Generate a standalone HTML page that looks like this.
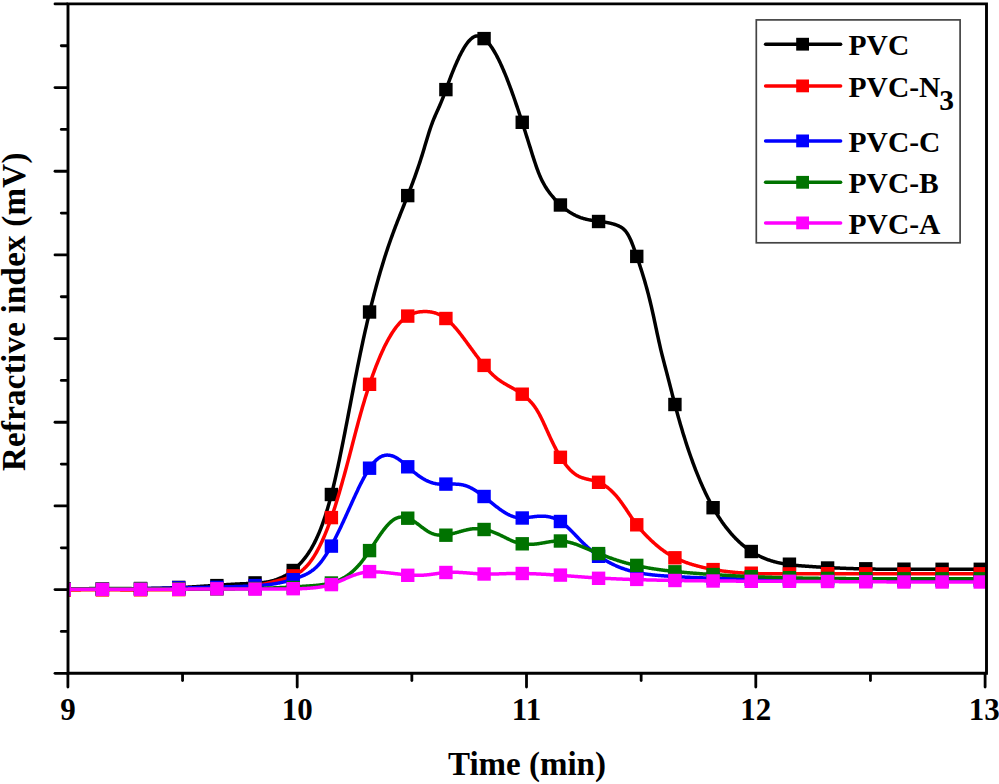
<!DOCTYPE html>
<html><head><meta charset="utf-8"><style>
html,body{margin:0;padding:0;background:#fff;width:999px;height:784px;overflow:hidden}
svg{display:block}
text{font-family:"Liberation Serif",serif;font-weight:bold;fill:#000}
.tl{font-size:31px}
.lg{font-size:29.5px}
.at{font-size:33px}
.yt{font-size:33px;letter-spacing:0.25px}
</style></head><body>
<svg width="999" height="784" viewBox="0 0 999 784">
<defs><clipPath id="pc"><rect x="67" y="3" width="920" height="671"/></clipPath></defs>
<g clip-path="url(#pc)">
<polyline points="64.20,589.54 64.81,589.52 65.42,589.50 66.03,589.49 66.64,589.47 67.26,589.46 67.87,589.44 68.48,589.43 69.09,589.41 69.70,589.40 70.31,589.38 70.92,589.37 71.53,589.35 72.14,589.34 72.76,589.33 73.37,589.31 73.98,589.30 74.59,589.29 75.20,589.28 75.81,589.27 76.42,589.25 77.03,589.24 77.64,589.23 78.26,589.22 78.87,589.21 79.48,589.20 80.09,589.19 80.70,589.18 81.31,589.17 81.92,589.16 82.53,589.15 83.14,589.14 83.76,589.13 84.37,589.12 84.98,589.11 85.59,589.10 86.20,589.09 86.81,589.08 87.42,589.08 88.03,589.07 88.65,589.06 89.26,589.05 89.87,589.04 90.48,589.04 91.09,589.03 91.70,589.02 92.31,589.01 92.92,589.01 93.53,589.00 94.15,588.99 94.76,588.99 95.37,588.98 95.98,588.97 96.59,588.97 97.20,588.96 97.81,588.96 98.42,588.95 99.03,588.94 99.65,588.94 100.26,588.93 100.87,588.93 101.48,588.92 102.09,588.92 102.70,588.91 103.31,588.91 103.92,588.90 104.53,588.89 105.15,588.89 105.76,588.88 106.37,588.88 106.98,588.87 107.59,588.87 108.20,588.86 108.81,588.86 109.42,588.85 110.03,588.85 110.65,588.84 111.26,588.84 111.87,588.84 112.48,588.83 113.09,588.83 113.70,588.82 114.31,588.82 114.92,588.81 115.53,588.81 116.15,588.80 116.76,588.80 117.37,588.79 117.98,588.79 118.59,588.78 119.20,588.78 119.81,588.77 120.42,588.77 121.03,588.76 121.65,588.76 122.26,588.75 122.87,588.75 123.48,588.74 124.09,588.74 124.70,588.73 125.31,588.73 125.92,588.72 126.53,588.71 127.15,588.71 127.76,588.70 128.37,588.70 128.98,588.69 129.59,588.69 130.20,588.68 130.81,588.67 131.42,588.67 132.04,588.66 132.65,588.65 133.26,588.65 133.87,588.64 134.48,588.63 135.09,588.63 135.70,588.62 136.31,588.61 136.92,588.60 137.54,588.60 138.15,588.59 138.76,588.58 139.37,588.57 139.98,588.57 140.59,588.56 141.20,588.55 141.81,588.54 142.42,588.53 143.04,588.52 143.65,588.51 144.26,588.50 144.87,588.49 145.48,588.48 146.09,588.47 146.70,588.46 147.31,588.45 147.92,588.44 148.54,588.43 149.15,588.42 149.76,588.41 150.37,588.40 150.98,588.39 151.59,588.37 152.20,588.36 152.81,588.35 153.42,588.34 154.04,588.32 154.65,588.31 155.26,588.30 155.87,588.28 156.48,588.27 157.09,588.26 157.70,588.24 158.31,588.23 158.92,588.21 159.54,588.20 160.15,588.18 160.76,588.17 161.37,588.15 161.98,588.13 162.59,588.12 163.20,588.10 163.81,588.08 164.42,588.06 165.04,588.05 165.65,588.03 166.26,588.01 166.87,587.99 167.48,587.97 168.09,587.95 168.70,587.93 169.31,587.91 169.93,587.89 170.54,587.87 171.15,587.85 171.76,587.83 172.37,587.80 172.98,587.78 173.59,587.76 174.20,587.74 174.81,587.71 175.43,587.69 176.04,587.67 176.65,587.64 177.26,587.62 177.87,587.59 178.48,587.56 179.09,587.54 179.70,587.51 180.31,587.48 180.93,587.46 181.54,587.43 182.15,587.40 182.76,587.37 183.37,587.34 183.98,587.31 184.59,587.28 185.20,587.25 185.81,587.22 186.43,587.19 187.04,587.16 187.65,587.13 188.26,587.09 188.87,587.06 189.48,587.03 190.09,586.99 190.70,586.96 191.31,586.93 191.93,586.89 192.54,586.85 193.15,586.82 193.76,586.78 194.37,586.75 194.98,586.71 195.59,586.67 196.20,586.63 196.81,586.60 197.43,586.56 198.04,586.52 198.65,586.48 199.26,586.44 199.87,586.40 200.48,586.36 201.09,586.32 201.70,586.28 202.31,586.24 202.93,586.20 203.54,586.16 204.15,586.12 204.76,586.08 205.37,586.04 205.98,586.00 206.59,585.96 207.20,585.92 207.81,585.87 208.43,585.83 209.04,585.79 209.65,585.75 210.26,585.71 210.87,585.67 211.48,585.62 212.09,585.58 212.70,585.54 213.32,585.50 213.93,585.46 214.54,585.42 215.15,585.38 215.76,585.33 216.37,585.29 216.98,585.25 217.59,585.21 218.20,585.17 218.82,585.13 219.43,585.09 220.04,585.05 220.65,585.01 221.26,584.97 221.87,584.93 222.48,584.89 223.09,584.85 223.70,584.81 224.32,584.77 224.93,584.73 225.54,584.69 226.15,584.65 226.76,584.61 227.37,584.58 227.98,584.54 228.59,584.50 229.20,584.46 229.82,584.43 230.43,584.39 231.04,584.36 231.65,584.32 232.26,584.29 232.87,584.25 233.48,584.22 234.09,584.18 234.70,584.15 235.32,584.12 235.93,584.08 236.54,584.05 237.15,584.02 237.76,583.99 238.37,583.96 238.98,583.93 239.59,583.90 240.20,583.87 240.82,583.84 241.43,583.82 242.04,583.79 242.65,583.76 243.26,583.74 243.87,583.71 244.48,583.69 245.09,583.66 245.70,583.64 246.32,583.62 246.93,583.59 247.54,583.57 248.15,583.55 248.76,583.53 249.37,583.51 249.98,583.48 250.59,583.46 251.20,583.44 251.82,583.41 252.43,583.39 253.04,583.36 253.65,583.33 254.26,583.30 254.87,583.27 255.48,583.23 256.09,583.19 256.71,583.16 257.32,583.11 257.93,583.07 258.54,583.02 259.15,582.97 259.76,582.92 260.37,582.86 260.98,582.80 261.59,582.74 262.21,582.67 262.82,582.60 263.43,582.52 264.04,582.44 264.65,582.36 265.26,582.27 265.87,582.17 266.48,582.07 267.09,581.97 267.71,581.86 268.32,581.74 268.93,581.62 269.54,581.49 270.15,581.36 270.76,581.22 271.37,581.07 271.98,580.92 272.59,580.76 273.21,580.59 273.82,580.42 274.43,580.23 275.04,580.04 275.65,579.85 276.26,579.64 276.87,579.43 277.48,579.21 278.09,578.98 278.71,578.74 279.32,578.49 279.93,578.23 280.54,577.97 281.15,577.70 281.76,577.41 282.37,577.12 282.98,576.81 283.59,576.50 284.21,576.18 284.82,575.84 285.43,575.50 286.04,575.14 286.65,574.78 287.26,574.40 287.87,574.01 288.48,573.62 289.09,573.20 289.71,572.78 290.32,572.35 290.93,571.90 291.54,571.44 292.15,570.97 292.76,570.49 293.37,569.99 293.98,569.48 294.60,568.96 295.21,568.43 295.82,567.88 296.43,567.31 297.04,566.74 297.65,566.15 298.26,565.54 298.87,564.92 299.48,564.29 300.10,563.64 300.71,562.98 301.32,562.30 301.93,561.61 302.54,560.90 303.15,560.17 303.76,559.43 304.37,558.67 304.98,557.89 305.60,557.08 306.21,556.26 306.82,555.42 307.43,554.55 308.04,553.66 308.65,552.75 309.26,551.81 309.87,550.84 310.48,549.85 311.10,548.84 311.71,547.79 312.32,546.72 312.93,545.62 313.54,544.48 314.15,543.32 314.76,542.13 315.37,540.90 315.98,539.64 316.60,538.34 317.21,537.01 317.82,535.65 318.43,534.25 319.04,532.81 319.65,531.34 320.26,529.82 320.87,528.27 321.48,526.68 322.10,525.05 322.71,523.37 323.32,521.65 323.93,519.89 324.54,518.09 325.15,516.24 325.76,514.35 326.37,512.41 326.98,510.42 327.60,508.39 328.21,506.30 328.82,504.17 329.43,501.99 330.04,499.76 330.65,497.47 331.26,495.13 331.87,492.75 332.48,490.30 333.10,487.81 333.71,485.27 334.32,482.69 334.93,480.06 335.54,477.38 336.15,474.67 336.76,471.91 337.37,469.12 337.99,466.29 338.60,463.43 339.21,460.53 339.82,457.61 340.43,454.65 341.04,451.67 341.65,448.66 342.26,445.63 342.87,442.57 343.49,439.50 344.10,436.40 344.71,433.29 345.32,430.17 345.93,427.03 346.54,423.88 347.15,420.72 347.76,417.55 348.37,414.37 348.99,411.19 349.60,408.01 350.21,404.82 350.82,401.64 351.43,398.46 352.04,395.28 352.65,392.11 353.26,388.95 353.87,385.79 354.49,382.65 355.10,379.52 355.71,376.40 356.32,373.30 356.93,370.22 357.54,367.15 358.15,364.11 358.76,361.10 359.37,358.10 359.99,355.14 360.60,352.20 361.21,349.29 361.82,346.41 362.43,343.55 363.04,340.73 363.65,337.93 364.26,335.16 364.87,332.42 365.49,329.70 366.10,327.02 366.71,324.36 367.32,321.72 367.93,319.11 368.54,316.53 369.15,313.98 369.76,311.45 370.37,308.95 370.99,306.47 371.60,304.02 372.21,301.60 372.82,299.20 373.43,296.82 374.04,294.47 374.65,292.15 375.26,289.85 375.87,287.58 376.49,285.33 377.10,283.10 377.71,280.90 378.32,278.72 378.93,276.57 379.54,274.44 380.15,272.33 380.76,270.25 381.38,268.19 381.99,266.16 382.60,264.14 383.21,262.15 383.82,260.18 384.43,258.24 385.04,256.32 385.65,254.42 386.26,252.54 386.88,250.68 387.49,248.85 388.10,247.03 388.71,245.24 389.32,243.47 389.93,241.72 390.54,239.99 391.15,238.28 391.76,236.58 392.38,234.90 392.99,233.24 393.60,231.60 394.21,229.96 394.82,228.34 395.43,226.73 396.04,225.14 396.65,223.55 397.26,221.97 397.88,220.41 398.49,218.84 399.10,217.29 399.71,215.74 400.32,214.20 400.93,212.66 401.54,211.13 402.15,209.59 402.76,208.06 403.38,206.53 403.99,205.00 404.60,203.47 405.21,201.93 405.82,200.39 406.43,198.85 407.04,197.31 407.65,195.75 408.26,194.19 408.88,192.63 409.49,191.05 410.10,189.47 410.71,187.87 411.32,186.27 411.93,184.65 412.54,183.02 413.15,181.37 413.76,179.71 414.38,178.04 414.99,176.34 415.60,174.63 416.21,172.91 416.82,171.16 417.43,169.39 418.04,167.60 418.65,165.79 419.27,163.96 419.88,162.10 420.49,160.22 421.10,158.32 421.71,156.38 422.32,154.42 422.93,152.43 423.54,150.42 424.15,148.38 424.77,146.34 425.38,144.28 425.99,142.23 426.60,140.19 427.21,138.16 427.82,136.16 428.43,134.18 429.04,132.24 429.65,130.35 430.27,128.50 430.88,126.71 431.49,124.98 432.10,123.32 432.71,121.72 433.32,120.17 433.93,118.67 434.54,117.21 435.15,115.78 435.77,114.38 436.38,113.00 436.99,111.63 437.60,110.28 438.21,108.92 438.82,107.55 439.43,106.18 440.04,104.78 440.65,103.36 441.27,101.90 441.88,100.41 442.49,98.87 443.10,97.29 443.71,95.66 444.32,94.01 444.93,92.34 445.54,90.66 446.15,88.99 446.77,87.32 447.38,85.66 447.99,84.02 448.60,82.39 449.21,80.77 449.82,79.16 450.43,77.57 451.04,76.00 451.65,74.44 452.27,72.90 452.88,71.38 453.49,69.88 454.10,68.39 454.71,66.93 455.32,65.49 455.93,64.08 456.54,62.68 457.15,61.32 457.77,59.97 458.38,58.66 458.99,57.37 459.60,56.11 460.21,54.88 460.82,53.68 461.43,52.51 462.04,51.37 462.66,50.27 463.27,49.19 463.88,48.16 464.49,47.16 465.10,46.19 465.71,45.26 466.32,44.37 466.93,43.52 467.54,42.71 468.16,41.94 468.77,41.21 469.38,40.53 469.99,39.89 470.60,39.29 471.21,38.74 471.82,38.23 472.43,37.77 473.04,37.36 473.66,37.00 474.27,36.69 474.88,36.42 475.49,36.21 476.10,36.06 476.71,35.95 477.32,35.90 477.93,35.91 478.54,35.96 479.16,36.07 479.77,36.23 480.38,36.43 480.99,36.68 481.60,36.98 482.21,37.32 482.82,37.70 483.43,38.12 484.04,38.58 484.66,39.08 485.27,39.61 485.88,40.18 486.49,40.79 487.10,41.43 487.71,42.11 488.32,42.83 488.93,43.57 489.54,44.35 490.16,45.17 490.77,46.01 491.38,46.89 491.99,47.80 492.60,48.75 493.21,49.72 493.82,50.72 494.43,51.75 495.04,52.82 495.66,53.91 496.27,55.03 496.88,56.18 497.49,57.35 498.10,58.55 498.71,59.78 499.32,61.04 499.93,62.32 500.54,63.62 501.16,64.95 501.77,66.31 502.38,67.69 502.99,69.09 503.60,70.51 504.21,71.96 504.82,73.43 505.43,74.92 506.05,76.43 506.66,77.96 507.27,79.51 507.88,81.08 508.49,82.67 509.10,84.28 509.71,85.91 510.32,87.55 510.93,89.21 511.55,90.89 512.16,92.59 512.77,94.30 513.38,96.02 513.99,97.76 514.60,99.52 515.21,101.28 515.82,103.06 516.43,104.86 517.05,106.67 517.66,108.48 518.27,110.31 518.88,112.16 519.49,114.01 520.10,115.87 520.71,117.74 521.32,119.62 521.93,121.51 522.55,123.41 523.16,125.31 523.77,127.22 524.38,129.14 524.99,131.07 525.60,133.00 526.21,134.93 526.82,136.87 527.43,138.82 528.05,140.77 528.66,142.72 529.27,144.68 529.88,146.64 530.49,148.59 531.10,150.55 531.71,152.50 532.32,154.44 532.93,156.36 533.55,158.26 534.16,160.14 534.77,161.99 535.38,163.81 535.99,165.59 536.60,167.34 537.21,169.04 537.82,170.69 538.43,172.29 539.05,173.83 539.66,175.31 540.27,176.74 540.88,178.11 541.49,179.42 542.10,180.68 542.71,181.89 543.32,183.05 543.94,184.17 544.55,185.25 545.16,186.28 545.77,187.28 546.38,188.24 546.99,189.17 547.60,190.08 548.21,190.95 548.82,191.80 549.44,192.62 550.05,193.43 550.66,194.21 551.27,194.98 551.88,195.74 552.49,196.48 553.10,197.21 553.71,197.93 554.32,198.63 554.94,199.32 555.55,200.00 556.16,200.66 556.77,201.31 557.38,201.94 557.99,202.57 558.60,203.18 559.21,203.78 559.82,204.36 560.44,204.93 561.05,205.49 561.66,206.04 562.27,206.58 562.88,207.10 563.49,207.61 564.10,208.11 564.71,208.60 565.32,209.08 565.94,209.55 566.55,210.00 567.16,210.44 567.77,210.87 568.38,211.30 568.99,211.71 569.60,212.10 570.21,212.49 570.82,212.87 571.44,213.24 572.05,213.59 572.66,213.94 573.27,214.28 573.88,214.60 574.49,214.92 575.10,215.23 575.71,215.53 576.32,215.81 576.94,216.09 577.55,216.36 578.16,216.62 578.77,216.87 579.38,217.11 579.99,217.34 580.60,217.57 581.21,217.78 581.82,217.99 582.44,218.19 583.05,218.38 583.66,218.56 584.27,218.73 584.88,218.90 585.49,219.06 586.10,219.21 586.71,219.35 587.33,219.49 587.94,219.62 588.55,219.74 589.16,219.86 589.77,219.98 590.38,220.09 590.99,220.19 591.60,220.30 592.21,220.39 592.83,220.49 593.44,220.58 594.05,220.67 594.66,220.75 595.27,220.84 595.88,220.92 596.49,221.00 597.10,221.08 597.71,221.16 598.33,221.24 598.94,221.32 599.55,221.40 600.16,221.48 600.77,221.56 601.38,221.64 601.99,221.72 602.60,221.81 603.21,221.90 603.83,221.99 604.44,222.08 605.05,222.18 605.66,222.28 606.27,222.39 606.88,222.50 607.49,222.61 608.10,222.73 608.71,222.86 609.33,222.99 609.94,223.13 610.55,223.27 611.16,223.42 611.77,223.58 612.38,223.75 612.99,223.92 613.60,224.10 614.21,224.29 614.83,224.49 615.44,224.70 616.05,224.92 616.66,225.15 617.27,225.38 617.88,225.63 618.49,225.89 619.10,226.17 619.71,226.46 620.33,226.78 620.94,227.13 621.55,227.51 622.16,227.93 622.77,228.39 623.38,228.89 623.99,229.45 624.60,230.06 625.21,230.72 625.83,231.46 626.44,232.26 627.05,233.13 627.66,234.07 628.27,235.10 628.88,236.22 629.49,237.42 630.10,238.70 630.72,240.07 631.33,241.50 631.94,243.00 632.55,244.55 633.16,246.16 633.77,247.81 634.38,249.50 634.99,251.23 635.60,252.98 636.22,254.75 636.83,256.54 637.44,258.33 638.05,260.13 638.66,261.95 639.27,263.79 639.88,265.64 640.49,267.51 641.10,269.40 641.72,271.32 642.33,273.26 642.94,275.23 643.55,277.24 644.16,279.27 644.77,281.35 645.38,283.46 645.99,285.61 646.60,287.81 647.22,290.05 647.83,292.33 648.44,294.67 649.05,297.06 649.66,299.50 650.27,302.00 650.88,304.56 651.49,307.18 652.10,309.86 652.72,312.60 653.33,315.38 653.94,318.21 654.55,321.05 655.16,323.92 655.77,326.80 656.38,329.68 656.99,332.55 657.60,335.39 658.22,338.22 658.83,341.00 659.44,343.73 660.05,346.41 660.66,349.03 661.27,351.58 661.88,354.07 662.49,356.52 663.10,358.92 663.72,361.29 664.33,363.64 664.94,365.96 665.55,368.28 666.16,370.60 666.77,372.92 667.38,375.25 667.99,377.61 668.61,379.98 669.22,382.36 669.83,384.75 670.44,387.14 671.05,389.54 671.66,391.93 672.27,394.32 672.88,396.69 673.49,399.06 674.11,401.41 674.72,403.74 675.33,406.05 675.94,408.33 676.55,410.59 677.16,412.82 677.77,415.04 678.38,417.22 678.99,419.39 679.61,421.53 680.22,423.65 680.83,425.75 681.44,427.82 682.05,429.87 682.66,431.90 683.27,433.90 683.88,435.88 684.49,437.85 685.11,439.78 685.72,441.70 686.33,443.60 686.94,445.47 687.55,447.33 688.16,449.16 688.77,450.97 689.38,452.76 689.99,454.53 690.61,456.28 691.22,458.00 691.83,459.71 692.44,461.40 693.05,463.07 693.66,464.71 694.27,466.34 694.88,467.95 695.49,469.54 696.11,471.11 696.72,472.66 697.33,474.19 697.94,475.70 698.55,477.20 699.16,478.67 699.77,480.13 700.38,481.57 700.99,482.99 701.61,484.39 702.22,485.78 702.83,487.14 703.44,488.49 704.05,489.82 704.66,491.14 705.27,492.43 705.88,493.72 706.49,494.98 707.11,496.23 707.72,497.46 708.33,498.67 708.94,499.87 709.55,501.05 710.16,502.21 710.77,503.36 711.38,504.50 712.00,505.62 712.61,506.72 713.22,507.81 713.83,508.88 714.44,509.94 715.05,510.98 715.66,512.01 716.27,513.02 716.88,514.02 717.50,515.01 718.11,515.98 718.72,516.93 719.33,517.88 719.94,518.81 720.55,519.72 721.16,520.63 721.77,521.52 722.38,522.39 723.00,523.26 723.61,524.11 724.22,524.94 724.83,525.77 725.44,526.58 726.05,527.38 726.66,528.17 727.27,528.95 727.88,529.71 728.50,530.47 729.11,531.21 729.72,531.94 730.33,532.66 730.94,533.37 731.55,534.07 732.16,534.75 732.77,535.43 733.38,536.09 734.00,536.75 734.61,537.39 735.22,538.03 735.83,538.65 736.44,539.27 737.05,539.87 737.66,540.47 738.27,541.06 738.88,541.63 739.50,542.20 740.11,542.76 740.72,543.31 741.33,543.85 741.94,544.38 742.55,544.90 743.16,545.41 743.77,545.92 744.38,546.41 745.00,546.90 745.61,547.37 746.22,547.84 746.83,548.30 747.44,548.76 748.05,549.20 748.66,549.64 749.27,550.07 749.88,550.49 750.50,550.90 751.11,551.30 751.72,551.70 752.33,552.09 752.94,552.47 753.55,552.84 754.16,553.21 754.77,553.57 755.39,553.92 756.00,554.26 756.61,554.60 757.22,554.93 757.83,555.26 758.44,555.57 759.05,555.88 759.66,556.19 760.27,556.49 760.89,556.78 761.50,557.06 762.11,557.34 762.72,557.61 763.33,557.87 763.94,558.13 764.55,558.39 765.16,558.64 765.77,558.88 766.39,559.11 767.00,559.34 767.61,559.57 768.22,559.79 768.83,560.00 769.44,560.21 770.05,560.41 770.66,560.61 771.27,560.81 771.89,560.99 772.50,561.18 773.11,561.36 773.72,561.53 774.33,561.70 774.94,561.86 775.55,562.02 776.16,562.18 776.77,562.33 777.39,562.48 778.00,562.62 778.61,562.76 779.22,562.90 779.83,563.03 780.44,563.16 781.05,563.28 781.66,563.40 782.27,563.52 782.89,563.63 783.50,563.74 784.11,563.85 784.72,563.95 785.33,564.05 785.94,564.15 786.55,564.24 787.16,564.33 787.77,564.42 788.39,564.51 789.00,564.59 789.61,564.67 790.22,564.75 790.83,564.83 791.44,564.90 792.05,564.97 792.66,565.04 793.28,565.11 793.89,565.17 794.50,565.24 795.11,565.30 795.72,565.36 796.33,565.42 796.94,565.47 797.55,565.53 798.16,565.58 798.78,565.64 799.39,565.69 800.00,565.74 800.61,565.79 801.22,565.84 801.83,565.88 802.44,565.93 803.05,565.98 803.66,566.02 804.28,566.07 804.89,566.11 805.50,566.16 806.11,566.20 806.72,566.25 807.33,566.29 807.94,566.33 808.55,566.37 809.16,566.42 809.78,566.46 810.39,566.50 811.00,566.54 811.61,566.58 812.22,566.62 812.83,566.66 813.44,566.70 814.05,566.74 814.66,566.78 815.28,566.82 815.89,566.86 816.50,566.90 817.11,566.94 817.72,566.98 818.33,567.01 818.94,567.05 819.55,567.09 820.16,567.12 820.78,567.16 821.39,567.20 822.00,567.23 822.61,567.27 823.22,567.30 823.83,567.34 824.44,567.37 825.05,567.40 825.66,567.44 826.28,567.47 826.89,567.50 827.50,567.54 828.11,567.57 828.72,567.60 829.33,567.63 829.94,567.66 830.55,567.69 831.16,567.72 831.78,567.75 832.39,567.78 833.00,567.81 833.61,567.84 834.22,567.87 834.83,567.90 835.44,567.93 836.05,567.96 836.67,567.99 837.28,568.01 837.89,568.04 838.50,568.07 839.11,568.09 839.72,568.12 840.33,568.15 840.94,568.17 841.55,568.20 842.17,568.22 842.78,568.25 843.39,568.27 844.00,568.30 844.61,568.32 845.22,568.34 845.83,568.37 846.44,568.39 847.05,568.41 847.67,568.43 848.28,568.46 848.89,568.48 849.50,568.50 850.11,568.52 850.72,568.54 851.33,568.56 851.94,568.58 852.55,568.60 853.17,568.62 853.78,568.64 854.39,568.66 855.00,568.68 855.61,568.69 856.22,568.71 856.83,568.73 857.44,568.75 858.05,568.76 858.67,568.78 859.28,568.80 859.89,568.81 860.50,568.83 861.11,568.84 861.72,568.86 862.33,568.87 862.94,568.89 863.55,568.90 864.17,568.92 864.78,568.93 865.39,568.94 866.00,568.96 866.61,568.97 867.22,568.98 867.83,568.99 868.44,569.01 869.05,569.02 869.67,569.03 870.28,569.04 870.89,569.05 871.50,569.06 872.11,569.07 872.72,569.08 873.33,569.09 873.94,569.10 874.55,569.11 875.17,569.12 875.78,569.13 876.39,569.14 877.00,569.14 877.61,569.15 878.22,569.16 878.83,569.17 879.44,569.17 880.06,569.18 880.67,569.19 881.28,569.19 881.89,569.20 882.50,569.21 883.11,569.21 883.72,569.22 884.33,569.22 884.94,569.23 885.56,569.23 886.17,569.24 886.78,569.24 887.39,569.25 888.00,569.25 888.61,569.26 889.22,569.26 889.83,569.26 890.44,569.27 891.06,569.27 891.67,569.27 892.28,569.28 892.89,569.28 893.50,569.28 894.11,569.28 894.72,569.28 895.33,569.29 895.94,569.29 896.56,569.29 897.17,569.29 897.78,569.29 898.39,569.29 899.00,569.30 899.61,569.30 900.22,569.30 900.83,569.30 901.44,569.30 902.06,569.30 902.67,569.30 903.28,569.30 903.89,569.30 904.50,569.30 905.11,569.30 905.72,569.30 906.33,569.30 906.94,569.30 907.56,569.30 908.17,569.30 908.78,569.30 909.39,569.30 910.00,569.30 910.61,569.29 911.22,569.29 911.83,569.29 912.44,569.29 913.06,569.29 913.67,569.29 914.28,569.29 914.89,569.29 915.50,569.28 916.11,569.28 916.72,569.28 917.33,569.28 917.95,569.28 918.56,569.27 919.17,569.27 919.78,569.27 920.39,569.27 921.00,569.27 921.61,569.26 922.22,569.26 922.83,569.26 923.45,569.26 924.06,569.26 924.67,569.25 925.28,569.25 925.89,569.25 926.50,569.25 927.11,569.24 927.72,569.24 928.33,569.24 928.95,569.24 929.56,569.24 930.17,569.23 930.78,569.23 931.39,569.23 932.00,569.23 932.61,569.22 933.22,569.22 933.83,569.22 934.45,569.22 935.06,569.21 935.67,569.21 936.28,569.21 936.89,569.21 937.50,569.21 938.11,569.20 938.72,569.20 939.33,569.20 939.95,569.20 940.56,569.20 941.17,569.20 941.78,569.19 942.39,569.19 943.00,569.19 943.61,569.19 944.22,569.19 944.83,569.19 945.45,569.19 946.06,569.18 946.67,569.18 947.28,569.18 947.89,569.18 948.50,569.18 949.11,569.18 949.72,569.18 950.33,569.18 950.95,569.18 951.56,569.18 952.17,569.18 952.78,569.18 953.39,569.18 954.00,569.18 954.61,569.18 955.22,569.18 955.83,569.18 956.45,569.18 957.06,569.18 957.67,569.18 958.28,569.18 958.89,569.18 959.50,569.19 960.11,569.19 960.72,569.19 961.34,569.19 961.95,569.19 962.56,569.20 963.17,569.20 963.78,569.20 964.39,569.20 965.00,569.21 965.61,569.21 966.22,569.21 966.84,569.22 967.45,569.22 968.06,569.22 968.67,569.23 969.28,569.23 969.89,569.24 970.50,569.24 971.11,569.24 971.72,569.25 972.34,569.25 972.95,569.26 973.56,569.27 974.17,569.27 974.78,569.28 975.39,569.28 976.00,569.29 976.61,569.30 977.22,569.30 977.84,569.31 978.45,569.32 979.06,569.33 979.67,569.33 980.28,569.34" fill="none" stroke="#000000" stroke-width="3.5" stroke-linejoin="round"/>
<rect x="57.50" y="582.80" width="13.4" height="13.4" fill="#000000"/>
<rect x="95.67" y="582.30" width="13.4" height="13.4" fill="#000000"/>
<rect x="133.84" y="581.80" width="13.4" height="13.4" fill="#000000"/>
<rect x="172.01" y="580.70" width="13.4" height="13.4" fill="#000000"/>
<rect x="210.18" y="578.90" width="13.4" height="13.4" fill="#000000"/>
<rect x="248.35" y="576.20" width="13.4" height="13.4" fill="#000000"/>
<rect x="286.52" y="563.80" width="13.4" height="13.4" fill="#000000"/>
<rect x="324.69" y="487.80" width="13.4" height="13.4" fill="#000000"/>
<rect x="362.86" y="305.30" width="13.4" height="13.4" fill="#000000"/>
<rect x="401.03" y="188.90" width="13.4" height="13.4" fill="#000000"/>
<rect x="439.20" y="82.90" width="13.4" height="13.4" fill="#000000"/>
<rect x="477.37" y="31.90" width="13.4" height="13.4" fill="#000000"/>
<rect x="515.54" y="115.60" width="13.4" height="13.4" fill="#000000"/>
<rect x="553.71" y="198.30" width="13.4" height="13.4" fill="#000000"/>
<rect x="591.88" y="214.80" width="13.4" height="13.4" fill="#000000"/>
<rect x="630.05" y="249.70" width="13.4" height="13.4" fill="#000000"/>
<rect x="668.22" y="397.80" width="13.4" height="13.4" fill="#000000"/>
<rect x="706.39" y="501.00" width="13.4" height="13.4" fill="#000000"/>
<rect x="744.56" y="544.80" width="13.4" height="13.4" fill="#000000"/>
<rect x="782.73" y="557.50" width="13.4" height="13.4" fill="#000000"/>
<rect x="820.90" y="561.30" width="13.4" height="13.4" fill="#000000"/>
<rect x="859.07" y="562.10" width="13.4" height="13.4" fill="#000000"/>
<rect x="897.24" y="562.50" width="13.4" height="13.4" fill="#000000"/>
<rect x="935.41" y="562.60" width="13.4" height="13.4" fill="#000000"/>
<rect x="973.58" y="562.60" width="13.4" height="13.4" fill="#000000"/>
<polyline points="64.20,590.02 64.81,590.02 65.42,590.01 66.03,590.00 66.64,589.99 67.26,589.99 67.87,589.98 68.48,589.97 69.09,589.97 69.70,589.96 70.31,589.95 70.92,589.95 71.53,589.94 72.14,589.94 72.76,589.93 73.37,589.92 73.98,589.92 74.59,589.92 75.20,589.91 75.81,589.91 76.42,589.90 77.03,589.90 77.64,589.89 78.26,589.89 78.87,589.89 79.48,589.88 80.09,589.88 80.70,589.88 81.31,589.87 81.92,589.87 82.53,589.87 83.14,589.87 83.76,589.86 84.37,589.86 84.98,589.86 85.59,589.86 86.20,589.85 86.81,589.85 87.42,589.85 88.03,589.85 88.65,589.85 89.26,589.85 89.87,589.85 90.48,589.84 91.09,589.84 91.70,589.84 92.31,589.84 92.92,589.84 93.53,589.84 94.15,589.84 94.76,589.84 95.37,589.84 95.98,589.84 96.59,589.84 97.20,589.84 97.81,589.84 98.42,589.84 99.03,589.84 99.65,589.84 100.26,589.84 100.87,589.84 101.48,589.84 102.09,589.84 102.70,589.84 103.31,589.84 103.92,589.84 104.53,589.84 105.15,589.85 105.76,589.85 106.37,589.85 106.98,589.85 107.59,589.85 108.20,589.85 108.81,589.85 109.42,589.85 110.03,589.85 110.65,589.86 111.26,589.86 111.87,589.86 112.48,589.86 113.09,589.86 113.70,589.86 114.31,589.86 114.92,589.86 115.53,589.87 116.15,589.87 116.76,589.87 117.37,589.87 117.98,589.87 118.59,589.87 119.20,589.87 119.81,589.87 120.42,589.88 121.03,589.88 121.65,589.88 122.26,589.88 122.87,589.88 123.48,589.88 124.09,589.88 124.70,589.88 125.31,589.88 125.92,589.89 126.53,589.89 127.15,589.89 127.76,589.89 128.37,589.89 128.98,589.89 129.59,589.89 130.20,589.89 130.81,589.89 131.42,589.89 132.04,589.89 132.65,589.89 133.26,589.89 133.87,589.89 134.48,589.89 135.09,589.89 135.70,589.89 136.31,589.89 136.92,589.89 137.54,589.89 138.15,589.89 138.76,589.89 139.37,589.89 139.98,589.89 140.59,589.89 141.20,589.89 141.81,589.89 142.42,589.89 143.04,589.89 143.65,589.89 144.26,589.89 144.87,589.88 145.48,589.88 146.09,589.88 146.70,589.88 147.31,589.88 147.92,589.87 148.54,589.87 149.15,589.87 149.76,589.87 150.37,589.86 150.98,589.86 151.59,589.86 152.20,589.86 152.81,589.85 153.42,589.85 154.04,589.85 154.65,589.84 155.26,589.84 155.87,589.83 156.48,589.83 157.09,589.83 157.70,589.82 158.31,589.82 158.92,589.81 159.54,589.81 160.15,589.80 160.76,589.80 161.37,589.79 161.98,589.78 162.59,589.78 163.20,589.77 163.81,589.77 164.42,589.76 165.04,589.75 165.65,589.74 166.26,589.74 166.87,589.73 167.48,589.72 168.09,589.71 168.70,589.71 169.31,589.70 169.93,589.69 170.54,589.68 171.15,589.67 171.76,589.66 172.37,589.65 172.98,589.64 173.59,589.63 174.20,589.62 174.81,589.61 175.43,589.60 176.04,589.59 176.65,589.58 177.26,589.57 177.87,589.56 178.48,589.54 179.09,589.53 179.70,589.52 180.31,589.51 180.93,589.49 181.54,589.48 182.15,589.47 182.76,589.45 183.37,589.44 183.98,589.42 184.59,589.41 185.20,589.39 185.81,589.38 186.43,589.36 187.04,589.35 187.65,589.33 188.26,589.31 188.87,589.30 189.48,589.28 190.09,589.26 190.70,589.25 191.31,589.23 191.93,589.21 192.54,589.19 193.15,589.17 193.76,589.15 194.37,589.14 194.98,589.12 195.59,589.10 196.20,589.08 196.81,589.06 197.43,589.04 198.04,589.02 198.65,589.00 199.26,588.98 199.87,588.96 200.48,588.94 201.09,588.92 201.70,588.91 202.31,588.89 202.93,588.87 203.54,588.85 204.15,588.83 204.76,588.81 205.37,588.79 205.98,588.77 206.59,588.76 207.20,588.74 207.81,588.72 208.43,588.70 209.04,588.69 209.65,588.67 210.26,588.65 210.87,588.64 211.48,588.62 212.09,588.61 212.70,588.59 213.32,588.58 213.93,588.57 214.54,588.55 215.15,588.54 215.76,588.53 216.37,588.51 216.98,588.50 217.59,588.49 218.20,588.48 218.82,588.47 219.43,588.46 220.04,588.45 220.65,588.44 221.26,588.43 221.87,588.42 222.48,588.41 223.09,588.40 223.70,588.39 224.32,588.38 224.93,588.37 225.54,588.36 226.15,588.35 226.76,588.34 227.37,588.32 227.98,588.31 228.59,588.30 229.20,588.28 229.82,588.26 230.43,588.25 231.04,588.23 231.65,588.21 232.26,588.19 232.87,588.17 233.48,588.14 234.09,588.12 234.70,588.09 235.32,588.06 235.93,588.03 236.54,588.00 237.15,587.97 237.76,587.93 238.37,587.89 238.98,587.85 239.59,587.81 240.20,587.77 240.82,587.72 241.43,587.67 242.04,587.62 242.65,587.56 243.26,587.51 243.87,587.45 244.48,587.39 245.09,587.32 245.70,587.25 246.32,587.18 246.93,587.11 247.54,587.03 248.15,586.95 248.76,586.87 249.37,586.79 249.98,586.70 250.59,586.61 251.20,586.52 251.82,586.42 252.43,586.32 253.04,586.22 253.65,586.12 254.26,586.02 254.87,585.91 255.48,585.80 256.09,585.69 256.71,585.58 257.32,585.46 257.93,585.34 258.54,585.22 259.15,585.10 259.76,584.98 260.37,584.85 260.98,584.72 261.59,584.59 262.21,584.46 262.82,584.33 263.43,584.20 264.04,584.06 264.65,583.92 265.26,583.79 265.87,583.65 266.48,583.50 267.09,583.36 267.71,583.22 268.32,583.07 268.93,582.93 269.54,582.78 270.15,582.63 270.76,582.48 271.37,582.33 271.98,582.18 272.59,582.03 273.21,581.87 273.82,581.72 274.43,581.56 275.04,581.41 275.65,581.25 276.26,581.09 276.87,580.94 277.48,580.78 278.09,580.62 278.71,580.46 279.32,580.30 279.93,580.14 280.54,579.98 281.15,579.82 281.76,579.66 282.37,579.50 282.98,579.34 283.59,579.17 284.21,579.01 284.82,578.83 285.43,578.66 286.04,578.48 286.65,578.30 287.26,578.11 287.87,577.92 288.48,577.72 289.09,577.51 289.71,577.29 290.32,577.07 290.93,576.84 291.54,576.59 292.15,576.34 292.76,576.08 293.37,575.81 293.98,575.52 294.60,575.23 295.21,574.92 295.82,574.60 296.43,574.26 297.04,573.91 297.65,573.55 298.26,573.17 298.87,572.77 299.48,572.36 300.10,571.93 300.71,571.49 301.32,571.02 301.93,570.54 302.54,570.03 303.15,569.51 303.76,568.97 304.37,568.40 304.98,567.82 305.60,567.21 306.21,566.58 306.82,565.93 307.43,565.25 308.04,564.55 308.65,563.82 309.26,563.07 309.87,562.30 310.48,561.49 311.10,560.66 311.71,559.81 312.32,558.92 312.93,558.02 313.54,557.08 314.15,556.12 314.76,555.13 315.37,554.11 315.98,553.07 316.60,552.00 317.21,550.90 317.82,549.78 318.43,548.63 319.04,547.45 319.65,546.24 320.26,545.01 320.87,543.74 321.48,542.46 322.10,541.14 322.71,539.79 323.32,538.42 323.93,537.02 324.54,535.59 325.15,534.13 325.76,532.65 326.37,531.13 326.98,529.59 327.60,528.02 328.21,526.42 328.82,524.79 329.43,523.13 330.04,521.45 330.65,519.73 331.26,517.99 331.87,516.21 332.48,514.41 333.10,512.58 333.71,510.72 334.32,508.84 334.93,506.93 335.54,505.00 336.15,503.04 336.76,501.05 337.37,499.05 337.99,497.02 338.60,494.97 339.21,492.90 339.82,490.81 340.43,488.70 341.04,486.57 341.65,484.43 342.26,482.26 342.87,480.08 343.49,477.89 344.10,475.67 344.71,473.45 345.32,471.21 345.93,468.96 346.54,466.69 347.15,464.41 347.76,462.13 348.37,459.83 348.99,457.52 349.60,455.21 350.21,452.88 350.82,450.55 351.43,448.21 352.04,445.87 352.65,443.53 353.26,441.18 353.87,438.84 354.49,436.50 355.10,434.17 355.71,431.85 356.32,429.53 356.93,427.23 357.54,424.94 358.15,422.67 358.76,420.41 359.37,418.18 359.99,415.96 360.60,413.77 361.21,411.61 361.82,409.46 362.43,407.34 363.04,405.25 363.65,403.17 364.26,401.13 364.87,399.10 365.49,397.10 366.10,395.12 366.71,393.17 367.32,391.24 367.93,389.34 368.54,387.45 369.15,385.59 369.76,383.76 370.37,381.95 370.99,380.16 371.60,378.40 372.21,376.66 372.82,374.94 373.43,373.25 374.04,371.58 374.65,369.94 375.26,368.32 375.87,366.72 376.49,365.14 377.10,363.59 377.71,362.07 378.32,360.57 378.93,359.09 379.54,357.63 380.15,356.20 380.76,354.79 381.38,353.41 381.99,352.05 382.60,350.71 383.21,349.40 383.82,348.11 384.43,346.85 385.04,345.60 385.65,344.39 386.26,343.19 386.88,342.02 387.49,340.88 388.10,339.75 388.71,338.65 389.32,337.58 389.93,336.53 390.54,335.50 391.15,334.49 391.76,333.51 392.38,332.56 392.99,331.62 393.60,330.71 394.21,329.83 394.82,328.97 395.43,328.13 396.04,327.31 396.65,326.52 397.26,325.76 397.88,325.01 398.49,324.29 399.10,323.60 399.71,322.92 400.32,322.28 400.93,321.65 401.54,321.05 402.15,320.47 402.76,319.91 403.38,319.38 403.99,318.87 404.60,318.37 405.21,317.90 405.82,317.45 406.43,317.02 407.04,316.61 407.65,316.22 408.26,315.85 408.88,315.49 409.49,315.16 410.10,314.84 410.71,314.54 411.32,314.25 411.93,313.99 412.54,313.74 413.15,313.50 413.76,313.28 414.38,313.08 414.99,312.89 415.60,312.71 416.21,312.55 416.82,312.41 417.43,312.27 418.04,312.15 418.65,312.04 419.27,311.94 419.88,311.86 420.49,311.79 421.10,311.72 421.71,311.67 422.32,311.63 422.93,311.60 423.54,311.57 424.15,311.56 424.77,311.55 425.38,311.56 425.99,311.57 426.60,311.59 427.21,311.62 427.82,311.66 428.43,311.70 429.04,311.76 429.65,311.83 430.27,311.91 430.88,312.00 431.49,312.10 432.10,312.21 432.71,312.34 433.32,312.47 433.93,312.62 434.54,312.78 435.15,312.96 435.77,313.15 436.38,313.35 436.99,313.57 437.60,313.80 438.21,314.04 438.82,314.30 439.43,314.58 440.04,314.87 440.65,315.18 441.27,315.50 441.88,315.85 442.49,316.20 443.10,316.58 443.71,316.97 444.32,317.38 444.93,317.81 445.54,318.26 446.15,318.73 446.77,319.22 447.38,319.72 447.99,320.24 448.60,320.78 449.21,321.34 449.82,321.91 450.43,322.50 451.04,323.11 451.65,323.73 452.27,324.36 452.88,325.01 453.49,325.67 454.10,326.35 454.71,327.04 455.32,327.74 455.93,328.45 456.54,329.17 457.15,329.90 457.77,330.65 458.38,331.40 458.99,332.16 459.60,332.93 460.21,333.71 460.82,334.50 461.43,335.29 462.04,336.09 462.66,336.90 463.27,337.71 463.88,338.53 464.49,339.35 465.10,340.17 465.71,341.00 466.32,341.84 466.93,342.67 467.54,343.51 468.16,344.35 468.77,345.19 469.38,346.03 469.99,346.87 470.60,347.71 471.21,348.55 471.82,349.39 472.43,350.23 473.04,351.07 473.66,351.90 474.27,352.73 474.88,353.56 475.49,354.38 476.10,355.20 476.71,356.01 477.32,356.82 477.93,357.63 478.54,358.43 479.16,359.23 479.77,360.02 480.38,360.80 480.99,361.58 481.60,362.34 482.21,363.11 482.82,363.86 483.43,364.61 484.04,365.35 484.66,366.08 485.27,366.80 485.88,367.51 486.49,368.21 487.10,368.91 487.71,369.59 488.32,370.26 488.93,370.92 489.54,371.57 490.16,372.20 490.77,372.83 491.38,373.44 491.99,374.04 492.60,374.63 493.21,375.20 493.82,375.76 494.43,376.31 495.04,376.84 495.66,377.36 496.27,377.86 496.88,378.35 497.49,378.83 498.10,379.29 498.71,379.74 499.32,380.18 499.93,380.61 500.54,381.03 501.16,381.45 501.77,381.85 502.38,382.24 502.99,382.63 503.60,383.01 504.21,383.38 504.82,383.75 505.43,384.11 506.05,384.46 506.66,384.82 507.27,385.17 507.88,385.51 508.49,385.86 509.10,386.20 509.71,386.54 510.32,386.88 510.93,387.22 511.55,387.56 512.16,387.90 512.77,388.24 513.38,388.59 513.99,388.94 514.60,389.29 515.21,389.64 515.82,390.00 516.43,390.37 517.05,390.74 517.66,391.12 518.27,391.50 518.88,391.90 519.49,392.30 520.10,392.71 520.71,393.13 521.32,393.55 521.93,393.99 522.55,394.44 523.16,394.91 523.77,395.38 524.38,395.87 524.99,396.37 525.60,396.88 526.21,397.41 526.82,397.96 527.43,398.52 528.05,399.10 528.66,399.69 529.27,400.30 529.88,400.94 530.49,401.59 531.10,402.26 531.71,402.95 532.32,403.67 532.93,404.41 533.55,405.19 534.16,405.99 534.77,406.83 535.38,407.70 535.99,408.61 536.60,409.56 537.21,410.55 537.82,411.59 538.43,412.66 539.05,413.77 539.66,414.91 540.27,416.09 540.88,417.29 541.49,418.52 542.10,419.78 542.71,421.05 543.32,422.35 543.94,423.66 544.55,424.99 545.16,426.32 545.77,427.67 546.38,429.02 546.99,430.37 547.60,431.73 548.21,433.08 548.82,434.43 549.44,435.77 550.05,437.11 550.66,438.43 551.27,439.74 551.88,441.03 552.49,442.30 553.10,443.55 553.71,444.78 554.32,445.99 554.94,447.18 555.55,448.35 556.16,449.50 556.77,450.63 557.38,451.74 557.99,452.82 558.60,453.89 559.21,454.93 559.82,455.95 560.44,456.95 561.05,457.93 561.66,458.88 562.27,459.82 562.88,460.73 563.49,461.62 564.10,462.49 564.71,463.33 565.32,464.15 565.94,464.95 566.55,465.73 567.16,466.48 567.77,467.21 568.38,467.92 568.99,468.60 569.60,469.26 570.21,469.90 570.82,470.51 571.44,471.10 572.05,471.66 572.66,472.20 573.27,472.72 573.88,473.21 574.49,473.68 575.10,474.12 575.71,474.54 576.32,474.93 576.94,475.30 577.55,475.65 578.16,475.98 578.77,476.30 579.38,476.59 579.99,476.86 580.60,477.12 581.21,477.36 581.82,477.59 582.44,477.81 583.05,478.01 583.66,478.20 584.27,478.38 584.88,478.56 585.49,478.72 586.10,478.88 586.71,479.03 587.33,479.18 587.94,479.32 588.55,479.46 589.16,479.60 589.77,479.74 590.38,479.87 590.99,480.01 591.60,480.15 592.21,480.30 592.83,480.45 593.44,480.60 594.05,480.76 594.66,480.93 595.27,481.11 595.88,481.29 596.49,481.49 597.10,481.70 597.71,481.92 598.33,482.15 598.94,482.40 599.55,482.66 600.16,482.94 600.77,483.24 601.38,483.55 601.99,483.87 602.60,484.21 603.21,484.57 603.83,484.94 604.44,485.33 605.05,485.73 605.66,486.15 606.27,486.58 606.88,487.03 607.49,487.50 608.10,487.98 608.71,488.48 609.33,488.99 609.94,489.52 610.55,490.07 611.16,490.63 611.77,491.21 612.38,491.80 612.99,492.41 613.60,493.04 614.21,493.68 614.83,494.34 615.44,495.01 616.05,495.70 616.66,496.41 617.27,497.14 617.88,497.88 618.49,498.64 619.10,499.41 619.71,500.20 620.33,501.01 620.94,501.84 621.55,502.68 622.16,503.53 622.77,504.39 623.38,505.27 623.99,506.16 624.60,507.05 625.21,507.95 625.83,508.86 626.44,509.78 627.05,510.69 627.66,511.61 628.27,512.53 628.88,513.45 629.49,514.37 630.10,515.29 630.72,516.20 631.33,517.11 631.94,518.01 632.55,518.91 633.16,519.79 633.77,520.66 634.38,521.53 634.99,522.38 635.60,523.21 636.22,524.04 636.83,524.84 637.44,525.63 638.05,526.40 638.66,527.15 639.27,527.89 639.88,528.62 640.49,529.33 641.10,530.04 641.72,530.72 642.33,531.40 642.94,532.07 643.55,532.73 644.16,533.38 644.77,534.03 645.38,534.67 645.99,535.30 646.60,535.93 647.22,536.55 647.83,537.16 648.44,537.77 649.05,538.37 649.66,538.97 650.27,539.55 650.88,540.14 651.49,540.71 652.10,541.28 652.72,541.85 653.33,542.40 653.94,542.95 654.55,543.50 655.16,544.03 655.77,544.56 656.38,545.09 656.99,545.61 657.60,546.12 658.22,546.62 658.83,547.12 659.44,547.61 660.05,548.09 660.66,548.57 661.27,549.04 661.88,549.50 662.49,549.95 663.10,550.40 663.72,550.84 664.33,551.28 664.94,551.70 665.55,552.12 666.16,552.54 666.77,552.94 667.38,553.34 667.99,553.73 668.61,554.11 669.22,554.49 669.83,554.86 670.44,555.22 671.05,555.58 671.66,555.93 672.27,556.27 672.88,556.60 673.49,556.93 674.11,557.25 674.72,557.57 675.33,557.88 675.94,558.18 676.55,558.48 677.16,558.78 677.77,559.06 678.38,559.34 678.99,559.62 679.61,559.89 680.22,560.16 680.83,560.42 681.44,560.67 682.05,560.92 682.66,561.17 683.27,561.41 683.88,561.65 684.49,561.88 685.11,562.11 685.72,562.33 686.33,562.55 686.94,562.76 687.55,562.98 688.16,563.18 688.77,563.39 689.38,563.59 689.99,563.79 690.61,563.98 691.22,564.17 691.83,564.36 692.44,564.55 693.05,564.73 693.66,564.91 694.27,565.09 694.88,565.26 695.49,565.44 696.11,565.61 696.72,565.77 697.33,565.94 697.94,566.10 698.55,566.26 699.16,566.42 699.77,566.58 700.38,566.73 700.99,566.89 701.61,567.04 702.22,567.18 702.83,567.33 703.44,567.47 704.05,567.61 704.66,567.75 705.27,567.89 705.88,568.03 706.49,568.16 707.11,568.29 707.72,568.42 708.33,568.55 708.94,568.67 709.55,568.80 710.16,568.92 710.77,569.04 711.38,569.15 712.00,569.27 712.61,569.38 713.22,569.49 713.83,569.60 714.44,569.71 715.05,569.82 715.66,569.92 716.27,570.02 716.88,570.13 717.50,570.22 718.11,570.32 718.72,570.42 719.33,570.51 719.94,570.60 720.55,570.69 721.16,570.78 721.77,570.87 722.38,570.95 723.00,571.04 723.61,571.12 724.22,571.20 724.83,571.28 725.44,571.35 726.05,571.43 726.66,571.50 727.27,571.58 727.88,571.65 728.50,571.72 729.11,571.79 729.72,571.85 730.33,571.92 730.94,571.98 731.55,572.04 732.16,572.10 732.77,572.16 733.38,572.22 734.00,572.28 734.61,572.33 735.22,572.39 735.83,572.44 736.44,572.49 737.05,572.54 737.66,572.59 738.27,572.64 738.88,572.69 739.50,572.73 740.11,572.77 740.72,572.82 741.33,572.86 741.94,572.90 742.55,572.94 743.16,572.98 743.77,573.01 744.38,573.05 745.00,573.09 745.61,573.12 746.22,573.15 746.83,573.18 747.44,573.22 748.05,573.25 748.66,573.27 749.27,573.30 749.88,573.33 750.50,573.35 751.11,573.38 751.72,573.40 752.33,573.43 752.94,573.45 753.55,573.47 754.16,573.49 754.77,573.51 755.39,573.53 756.00,573.55 756.61,573.57 757.22,573.58 757.83,573.60 758.44,573.61 759.05,573.63 759.66,573.64 760.27,573.65 760.89,573.67 761.50,573.68 762.11,573.69 762.72,573.70 763.33,573.71 763.94,573.72 764.55,573.73 765.16,573.74 765.77,573.74 766.39,573.75 767.00,573.76 767.61,573.76 768.22,573.77 768.83,573.77 769.44,573.78 770.05,573.78 770.66,573.79 771.27,573.79 771.89,573.79 772.50,573.79 773.11,573.80 773.72,573.80 774.33,573.80 774.94,573.80 775.55,573.80 776.16,573.80 776.77,573.80 777.39,573.80 778.00,573.80 778.61,573.80 779.22,573.80 779.83,573.80 780.44,573.80 781.05,573.80 781.66,573.80 782.27,573.79 782.89,573.79 783.50,573.79 784.11,573.79 784.72,573.79 785.33,573.78 785.94,573.78 786.55,573.78 787.16,573.78 787.77,573.78 788.39,573.77 789.00,573.77 789.61,573.77 790.22,573.77 790.83,573.77 791.44,573.76 792.05,573.76 792.66,573.76 793.28,573.76 793.89,573.76 794.50,573.76 795.11,573.75 795.72,573.75 796.33,573.75 796.94,573.75 797.55,573.75 798.16,573.75 798.78,573.75 799.39,573.75 800.00,573.74 800.61,573.74 801.22,573.74 801.83,573.74 802.44,573.74 803.05,573.74 803.66,573.74 804.28,573.74 804.89,573.74 805.50,573.74 806.11,573.74 806.72,573.74 807.33,573.74 807.94,573.74 808.55,573.74 809.16,573.73 809.78,573.73 810.39,573.73 811.00,573.73 811.61,573.73 812.22,573.73 812.83,573.73 813.44,573.73 814.05,573.73 814.66,573.73 815.28,573.73 815.89,573.73 816.50,573.73 817.11,573.73 817.72,573.73 818.33,573.73 818.94,573.73 819.55,573.73 820.16,573.74 820.78,573.74 821.39,573.74 822.00,573.74 822.61,573.74 823.22,573.74 823.83,573.74 824.44,573.74 825.05,573.74 825.66,573.74 826.28,573.74 826.89,573.74 827.50,573.74 828.11,573.74 828.72,573.74 829.33,573.74 829.94,573.74 830.55,573.74 831.16,573.74 831.78,573.75 832.39,573.75 833.00,573.75 833.61,573.75 834.22,573.75 834.83,573.75 835.44,573.75 836.05,573.75 836.67,573.75 837.28,573.75 837.89,573.75 838.50,573.75 839.11,573.76 839.72,573.76 840.33,573.76 840.94,573.76 841.55,573.76 842.17,573.76 842.78,573.76 843.39,573.76 844.00,573.76 844.61,573.76 845.22,573.76 845.83,573.77 846.44,573.77 847.05,573.77 847.67,573.77 848.28,573.77 848.89,573.77 849.50,573.77 850.11,573.77 850.72,573.77 851.33,573.77 851.94,573.78 852.55,573.78 853.17,573.78 853.78,573.78 854.39,573.78 855.00,573.78 855.61,573.78 856.22,573.78 856.83,573.78 857.44,573.78 858.05,573.78 858.67,573.79 859.28,573.79 859.89,573.79 860.50,573.79 861.11,573.79 861.72,573.79 862.33,573.79 862.94,573.79 863.55,573.79 864.17,573.79 864.78,573.79 865.39,573.79 866.00,573.79 866.61,573.80 867.22,573.80 867.83,573.80 868.44,573.80 869.05,573.80 869.67,573.80 870.28,573.80 870.89,573.80 871.50,573.80 872.11,573.80 872.72,573.80 873.33,573.80 873.94,573.80 874.55,573.80 875.17,573.80 875.78,573.80 876.39,573.80 877.00,573.80 877.61,573.80 878.22,573.80 878.83,573.80 879.44,573.81 880.06,573.81 880.67,573.81 881.28,573.81 881.89,573.81 882.50,573.81 883.11,573.81 883.72,573.81 884.33,573.81 884.94,573.81 885.56,573.81 886.17,573.81 886.78,573.81 887.39,573.81 888.00,573.81 888.61,573.81 889.22,573.81 889.83,573.81 890.44,573.81 891.06,573.81 891.67,573.81 892.28,573.81 892.89,573.81 893.50,573.81 894.11,573.81 894.72,573.81 895.33,573.81 895.94,573.81 896.56,573.81 897.17,573.81 897.78,573.81 898.39,573.81 899.00,573.81 899.61,573.81 900.22,573.81 900.83,573.81 901.44,573.81 902.06,573.81 902.67,573.81 903.28,573.81 903.89,573.81 904.50,573.81 905.11,573.81 905.72,573.81 906.33,573.81 906.94,573.81 907.56,573.81 908.17,573.81 908.78,573.81 909.39,573.81 910.00,573.81 910.61,573.81 911.22,573.81 911.83,573.81 912.44,573.81 913.06,573.80 913.67,573.80 914.28,573.80 914.89,573.80 915.50,573.80 916.11,573.80 916.72,573.80 917.33,573.80 917.95,573.80 918.56,573.80 919.17,573.80 919.78,573.80 920.39,573.80 921.00,573.80 921.61,573.80 922.22,573.80 922.83,573.80 923.45,573.80 924.06,573.80 924.67,573.80 925.28,573.80 925.89,573.80 926.50,573.80 927.11,573.80 927.72,573.80 928.33,573.80 928.95,573.80 929.56,573.80 930.17,573.80 930.78,573.80 931.39,573.80 932.00,573.80 932.61,573.80 933.22,573.80 933.83,573.80 934.45,573.80 935.06,573.80 935.67,573.80 936.28,573.80 936.89,573.80 937.50,573.80 938.11,573.80 938.72,573.80 939.33,573.79 939.95,573.79 940.56,573.79 941.17,573.79 941.78,573.79 942.39,573.79 943.00,573.79 943.61,573.79 944.22,573.79 944.83,573.79 945.45,573.79 946.06,573.79 946.67,573.79 947.28,573.79 947.89,573.79 948.50,573.79 949.11,573.79 949.72,573.79 950.33,573.79 950.95,573.79 951.56,573.79 952.17,573.79 952.78,573.79 953.39,573.79 954.00,573.79 954.61,573.79 955.22,573.79 955.83,573.79 956.45,573.79 957.06,573.79 957.67,573.79 958.28,573.79 958.89,573.79 959.50,573.79 960.11,573.79 960.72,573.79 961.34,573.79 961.95,573.79 962.56,573.79 963.17,573.79 963.78,573.79 964.39,573.79 965.00,573.79 965.61,573.79 966.22,573.79 966.84,573.79 967.45,573.79 968.06,573.79 968.67,573.79 969.28,573.79 969.89,573.80 970.50,573.80 971.11,573.80 971.72,573.80 972.34,573.80 972.95,573.80 973.56,573.80 974.17,573.80 974.78,573.80 975.39,573.80 976.00,573.80 976.61,573.80 977.22,573.80 977.84,573.80 978.45,573.80 979.06,573.80 979.67,573.80 980.28,573.80" fill="none" stroke="#ff0000" stroke-width="3.5" stroke-linejoin="round"/>
<rect x="57.50" y="583.30" width="13.4" height="13.4" fill="#ff0000"/>
<rect x="95.67" y="583.20" width="13.4" height="13.4" fill="#ff0000"/>
<rect x="133.84" y="583.10" width="13.4" height="13.4" fill="#ff0000"/>
<rect x="172.01" y="582.90" width="13.4" height="13.4" fill="#ff0000"/>
<rect x="210.18" y="581.80" width="13.4" height="13.4" fill="#ff0000"/>
<rect x="248.35" y="579.30" width="13.4" height="13.4" fill="#ff0000"/>
<rect x="286.52" y="569.20" width="13.4" height="13.4" fill="#ff0000"/>
<rect x="324.69" y="510.90" width="13.4" height="13.4" fill="#ff0000"/>
<rect x="362.86" y="377.60" width="13.4" height="13.4" fill="#ff0000"/>
<rect x="401.03" y="309.40" width="13.4" height="13.4" fill="#ff0000"/>
<rect x="439.20" y="311.80" width="13.4" height="13.4" fill="#ff0000"/>
<rect x="477.37" y="358.70" width="13.4" height="13.4" fill="#ff0000"/>
<rect x="515.54" y="387.50" width="13.4" height="13.4" fill="#ff0000"/>
<rect x="553.71" y="450.60" width="13.4" height="13.4" fill="#ff0000"/>
<rect x="591.88" y="475.60" width="13.4" height="13.4" fill="#ff0000"/>
<rect x="630.05" y="518.10" width="13.4" height="13.4" fill="#ff0000"/>
<rect x="668.22" y="551.10" width="13.4" height="13.4" fill="#ff0000"/>
<rect x="706.39" y="562.90" width="13.4" height="13.4" fill="#ff0000"/>
<rect x="744.56" y="566.50" width="13.4" height="13.4" fill="#ff0000"/>
<rect x="782.73" y="567.20" width="13.4" height="13.4" fill="#ff0000"/>
<rect x="820.90" y="567.00" width="13.4" height="13.4" fill="#ff0000"/>
<rect x="859.07" y="567.10" width="13.4" height="13.4" fill="#ff0000"/>
<rect x="897.24" y="567.10" width="13.4" height="13.4" fill="#ff0000"/>
<rect x="935.41" y="567.10" width="13.4" height="13.4" fill="#ff0000"/>
<rect x="973.58" y="567.10" width="13.4" height="13.4" fill="#ff0000"/>
<polyline points="64.20,588.99 64.81,588.99 65.42,588.99 66.03,589.00 66.64,589.00 67.26,589.01 67.87,589.01 68.48,589.01 69.09,589.02 69.70,589.02 70.31,589.02 70.92,589.03 71.53,589.03 72.14,589.03 72.76,589.04 73.37,589.04 73.98,589.04 74.59,589.04 75.20,589.05 75.81,589.05 76.42,589.05 77.03,589.05 77.64,589.06 78.26,589.06 78.87,589.06 79.48,589.06 80.09,589.06 80.70,589.06 81.31,589.06 81.92,589.07 82.53,589.07 83.14,589.07 83.76,589.07 84.37,589.07 84.98,589.07 85.59,589.07 86.20,589.07 86.81,589.07 87.42,589.07 88.03,589.07 88.65,589.07 89.26,589.07 89.87,589.07 90.48,589.07 91.09,589.07 91.70,589.07 92.31,589.07 92.92,589.07 93.53,589.07 94.15,589.06 94.76,589.06 95.37,589.06 95.98,589.06 96.59,589.06 97.20,589.06 97.81,589.06 98.42,589.05 99.03,589.05 99.65,589.05 100.26,589.05 100.87,589.05 101.48,589.04 102.09,589.04 102.70,589.04 103.31,589.03 103.92,589.03 104.53,589.03 105.15,589.03 105.76,589.02 106.37,589.02 106.98,589.02 107.59,589.01 108.20,589.01 108.81,589.01 109.42,589.00 110.03,589.00 110.65,588.99 111.26,588.99 111.87,588.99 112.48,588.98 113.09,588.98 113.70,588.97 114.31,588.97 114.92,588.96 115.53,588.96 116.15,588.96 116.76,588.95 117.37,588.95 117.98,588.94 118.59,588.94 119.20,588.93 119.81,588.92 120.42,588.92 121.03,588.91 121.65,588.91 122.26,588.90 122.87,588.90 123.48,588.89 124.09,588.88 124.70,588.88 125.31,588.87 125.92,588.87 126.53,588.86 127.15,588.85 127.76,588.85 128.37,588.84 128.98,588.83 129.59,588.83 130.20,588.82 130.81,588.81 131.42,588.81 132.04,588.80 132.65,588.79 133.26,588.78 133.87,588.78 134.48,588.77 135.09,588.76 135.70,588.75 136.31,588.75 136.92,588.74 137.54,588.73 138.15,588.72 138.76,588.71 139.37,588.71 139.98,588.70 140.59,588.69 141.20,588.68 141.81,588.67 142.42,588.66 143.04,588.66 143.65,588.65 144.26,588.64 144.87,588.63 145.48,588.62 146.09,588.61 146.70,588.60 147.31,588.59 147.92,588.58 148.54,588.57 149.15,588.56 149.76,588.55 150.37,588.54 150.98,588.54 151.59,588.53 152.20,588.52 152.81,588.51 153.42,588.50 154.04,588.49 154.65,588.48 155.26,588.46 155.87,588.45 156.48,588.44 157.09,588.43 157.70,588.42 158.31,588.41 158.92,588.40 159.54,588.39 160.15,588.38 160.76,588.37 161.37,588.36 161.98,588.35 162.59,588.34 163.20,588.32 163.81,588.31 164.42,588.30 165.04,588.29 165.65,588.28 166.26,588.27 166.87,588.26 167.48,588.24 168.09,588.23 168.70,588.22 169.31,588.21 169.93,588.20 170.54,588.18 171.15,588.17 171.76,588.16 172.37,588.15 172.98,588.14 173.59,588.12 174.20,588.11 174.81,588.10 175.43,588.09 176.04,588.07 176.65,588.06 177.26,588.05 177.87,588.04 178.48,588.02 179.09,588.01 179.70,588.00 180.31,587.98 180.93,587.97 181.54,587.96 182.15,587.94 182.76,587.93 183.37,587.92 183.98,587.90 184.59,587.89 185.20,587.88 185.81,587.86 186.43,587.85 187.04,587.84 187.65,587.82 188.26,587.81 188.87,587.79 189.48,587.78 190.09,587.77 190.70,587.75 191.31,587.74 191.93,587.72 192.54,587.71 193.15,587.69 193.76,587.68 194.37,587.67 194.98,587.65 195.59,587.64 196.20,587.62 196.81,587.61 197.43,587.59 198.04,587.58 198.65,587.56 199.26,587.55 199.87,587.53 200.48,587.52 201.09,587.50 201.70,587.49 202.31,587.47 202.93,587.46 203.54,587.44 204.15,587.43 204.76,587.41 205.37,587.40 205.98,587.38 206.59,587.37 207.20,587.35 207.81,587.34 208.43,587.32 209.04,587.30 209.65,587.29 210.26,587.27 210.87,587.26 211.48,587.24 212.09,587.23 212.70,587.21 213.32,587.19 213.93,587.18 214.54,587.16 215.15,587.15 215.76,587.13 216.37,587.11 216.98,587.10 217.59,587.08 218.20,587.07 218.82,587.05 219.43,587.03 220.04,587.02 220.65,587.00 221.26,586.98 221.87,586.97 222.48,586.95 223.09,586.93 223.70,586.92 224.32,586.90 224.93,586.88 225.54,586.87 226.15,586.85 226.76,586.83 227.37,586.82 227.98,586.80 228.59,586.78 229.20,586.77 229.82,586.75 230.43,586.73 231.04,586.72 231.65,586.70 232.26,586.68 232.87,586.67 233.48,586.65 234.09,586.63 234.70,586.61 235.32,586.60 235.93,586.58 236.54,586.56 237.15,586.55 237.76,586.53 238.37,586.51 238.98,586.49 239.59,586.48 240.20,586.46 240.82,586.44 241.43,586.42 242.04,586.40 242.65,586.38 243.26,586.36 243.87,586.34 244.48,586.32 245.09,586.30 245.70,586.27 246.32,586.25 246.93,586.23 247.54,586.20 248.15,586.18 248.76,586.15 249.37,586.13 249.98,586.10 250.59,586.07 251.20,586.04 251.82,586.01 252.43,585.98 253.04,585.94 253.65,585.91 254.26,585.87 254.87,585.84 255.48,585.80 256.09,585.76 256.71,585.72 257.32,585.68 257.93,585.63 258.54,585.59 259.15,585.54 259.76,585.50 260.37,585.45 260.98,585.39 261.59,585.34 262.21,585.29 262.82,585.23 263.43,585.17 264.04,585.11 264.65,585.05 265.26,584.99 265.87,584.92 266.48,584.86 267.09,584.79 267.71,584.71 268.32,584.64 268.93,584.57 269.54,584.49 270.15,584.41 270.76,584.32 271.37,584.24 271.98,584.15 272.59,584.06 273.21,583.97 273.82,583.88 274.43,583.78 275.04,583.68 275.65,583.58 276.26,583.47 276.87,583.37 277.48,583.26 278.09,583.14 278.71,583.03 279.32,582.91 279.93,582.79 280.54,582.66 281.15,582.54 281.76,582.41 282.37,582.27 282.98,582.14 283.59,582.00 284.21,581.86 284.82,581.71 285.43,581.56 286.04,581.41 286.65,581.25 287.26,581.10 287.87,580.93 288.48,580.77 289.09,580.60 289.71,580.43 290.32,580.25 290.93,580.07 291.54,579.89 292.15,579.70 292.76,579.51 293.37,579.32 293.98,579.12 294.60,578.92 295.21,578.71 295.82,578.50 296.43,578.29 297.04,578.07 297.65,577.85 298.26,577.62 298.87,577.39 299.48,577.16 300.10,576.92 300.71,576.68 301.32,576.43 301.93,576.18 302.54,575.92 303.15,575.66 303.76,575.39 304.37,575.11 304.98,574.83 305.60,574.53 306.21,574.23 306.82,573.91 307.43,573.59 308.04,573.25 308.65,572.90 309.26,572.53 309.87,572.15 310.48,571.76 311.10,571.35 311.71,570.93 312.32,570.48 312.93,570.02 313.54,569.55 314.15,569.05 314.76,568.53 315.37,567.99 315.98,567.43 316.60,566.85 317.21,566.25 317.82,565.62 318.43,564.97 319.04,564.29 319.65,563.58 320.26,562.85 320.87,562.10 321.48,561.32 322.10,560.52 322.71,559.69 323.32,558.84 323.93,557.97 324.54,557.07 325.15,556.15 325.76,555.22 326.37,554.26 326.98,553.28 327.60,552.28 328.21,551.26 328.82,550.23 329.43,549.18 330.04,548.10 330.65,547.02 331.26,545.91 331.87,544.79 332.48,543.66 333.10,542.51 333.71,541.34 334.32,540.16 334.93,538.97 335.54,537.77 336.15,536.55 336.76,535.32 337.37,534.08 337.99,532.83 338.60,531.57 339.21,530.30 339.82,529.02 340.43,527.73 341.04,526.44 341.65,525.13 342.26,523.82 342.87,522.51 343.49,521.18 344.10,519.85 344.71,518.52 345.32,517.18 345.93,515.84 346.54,514.50 347.15,513.15 347.76,511.80 348.37,510.45 348.99,509.09 349.60,507.74 350.21,506.39 350.82,505.03 351.43,503.68 352.04,502.33 352.65,500.98 353.26,499.64 353.87,498.30 354.49,496.96 355.10,495.63 355.71,494.31 356.32,493.00 356.93,491.69 357.54,490.40 358.15,489.12 358.76,487.84 359.37,486.58 359.99,485.34 360.60,484.10 361.21,482.88 361.82,481.68 362.43,480.50 363.04,479.33 363.65,478.18 364.26,477.05 364.87,475.94 365.49,474.85 366.10,473.78 366.71,472.73 367.32,471.71 367.93,470.71 368.54,469.74 369.15,468.80 369.76,467.88 370.37,466.99 370.99,466.13 371.60,465.30 372.21,464.49 372.82,463.72 373.43,462.99 374.04,462.28 374.65,461.61 375.26,460.98 375.87,460.38 376.49,459.81 377.10,459.28 377.71,458.78 378.32,458.32 378.93,457.89 379.54,457.49 380.15,457.13 380.76,456.79 381.38,456.49 381.99,456.22 382.60,455.98 383.21,455.77 383.82,455.59 384.43,455.44 385.04,455.32 385.65,455.23 386.26,455.16 386.88,455.12 387.49,455.12 388.10,455.13 388.71,455.18 389.32,455.25 389.93,455.34 390.54,455.47 391.15,455.61 391.76,455.78 392.38,455.98 392.99,456.20 393.60,456.44 394.21,456.70 394.82,456.99 395.43,457.30 396.04,457.63 396.65,457.98 397.26,458.35 397.88,458.74 398.49,459.15 399.10,459.57 399.71,460.01 400.32,460.46 400.93,460.92 401.54,461.40 402.15,461.89 402.76,462.39 403.38,462.89 403.99,463.41 404.60,463.93 405.21,464.46 405.82,465.00 406.43,465.54 407.04,466.08 407.65,466.63 408.26,467.17 408.88,467.72 409.49,468.27 410.10,468.81 410.71,469.35 411.32,469.89 411.93,470.43 412.54,470.96 413.15,471.48 413.76,471.99 414.38,472.50 414.99,472.99 415.60,473.48 416.21,473.96 416.82,474.43 417.43,474.89 418.04,475.34 418.65,475.78 419.27,476.21 419.88,476.63 420.49,477.04 421.10,477.44 421.71,477.83 422.32,478.21 422.93,478.58 423.54,478.93 424.15,479.28 424.77,479.62 425.38,479.94 425.99,480.26 426.60,480.56 427.21,480.85 427.82,481.13 428.43,481.40 429.04,481.65 429.65,481.90 430.27,482.13 430.88,482.35 431.49,482.56 432.10,482.75 432.71,482.94 433.32,483.11 433.93,483.27 434.54,483.41 435.15,483.54 435.77,483.66 436.38,483.77 436.99,483.86 437.60,483.95 438.21,484.02 438.82,484.08 439.43,484.14 440.04,484.18 440.65,484.22 441.27,484.25 441.88,484.27 442.49,484.28 443.10,484.29 443.71,484.30 444.32,484.30 444.93,484.29 445.54,484.28 446.15,484.27 446.77,484.25 447.38,484.24 447.99,484.22 448.60,484.20 449.21,484.18 449.82,484.16 450.43,484.15 451.04,484.13 451.65,484.12 452.27,484.11 452.88,484.10 453.49,484.09 454.10,484.09 454.71,484.10 455.32,484.11 455.93,484.13 456.54,484.15 457.15,484.18 457.77,484.22 458.38,484.27 458.99,484.33 459.60,484.39 460.21,484.47 460.82,484.56 461.43,484.66 462.04,484.77 462.66,484.89 463.27,485.03 463.88,485.18 464.49,485.34 465.10,485.52 465.71,485.71 466.32,485.92 466.93,486.15 467.54,486.38 468.16,486.63 468.77,486.90 469.38,487.18 469.99,487.47 470.60,487.77 471.21,488.08 471.82,488.41 472.43,488.75 473.04,489.10 473.66,489.45 474.27,489.82 474.88,490.20 475.49,490.59 476.10,490.98 476.71,491.39 477.32,491.80 477.93,492.22 478.54,492.65 479.16,493.08 479.77,493.52 480.38,493.97 480.99,494.42 481.60,494.88 482.21,495.34 482.82,495.81 483.43,496.29 484.04,496.76 484.66,497.24 485.27,497.72 485.88,498.21 486.49,498.70 487.10,499.19 487.71,499.68 488.32,500.17 488.93,500.67 489.54,501.16 490.16,501.66 490.77,502.15 491.38,502.65 491.99,503.14 492.60,503.63 493.21,504.12 493.82,504.61 494.43,505.10 495.04,505.58 495.66,506.06 496.27,506.53 496.88,507.00 497.49,507.47 498.10,507.93 498.71,508.39 499.32,508.84 499.93,509.29 500.54,509.72 501.16,510.16 501.77,510.58 502.38,510.99 502.99,511.40 503.60,511.80 504.21,512.19 504.82,512.57 505.43,512.94 506.05,513.30 506.66,513.65 507.27,513.98 507.88,514.31 508.49,514.62 509.10,514.92 509.71,515.21 510.32,515.49 510.93,515.75 511.55,515.99 512.16,516.23 512.77,516.44 513.38,516.64 513.99,516.83 514.60,517.00 515.21,517.15 515.82,517.28 516.43,517.40 517.05,517.51 517.66,517.60 518.27,517.67 518.88,517.73 519.49,517.78 520.10,517.81 520.71,517.84 521.32,517.85 521.93,517.85 522.55,517.84 523.16,517.83 523.77,517.80 524.38,517.77 524.99,517.72 525.60,517.68 526.21,517.62 526.82,517.56 527.43,517.50 528.05,517.43 528.66,517.36 529.27,517.28 529.88,517.21 530.49,517.13 531.10,517.05 531.71,516.97 532.32,516.89 532.93,516.81 533.55,516.73 534.16,516.66 534.77,516.59 535.38,516.52 535.99,516.45 536.60,516.39 537.21,516.34 537.82,516.29 538.43,516.25 539.05,516.21 539.66,516.18 540.27,516.16 540.88,516.14 541.49,516.14 542.10,516.14 542.71,516.15 543.32,516.17 543.94,516.19 544.55,516.23 545.16,516.28 545.77,516.33 546.38,516.40 546.99,516.48 547.60,516.57 548.21,516.67 548.82,516.78 549.44,516.90 550.05,517.04 550.66,517.19 551.27,517.35 551.88,517.52 552.49,517.71 553.10,517.91 553.71,518.13 554.32,518.36 554.94,518.60 555.55,518.87 556.16,519.14 556.77,519.43 557.38,519.74 557.99,520.07 558.60,520.41 559.21,520.76 559.82,521.14 560.44,521.53 561.05,521.94 561.66,522.37 562.27,522.82 562.88,523.28 563.49,523.75 564.10,524.24 564.71,524.75 565.32,525.27 565.94,525.80 566.55,526.34 567.16,526.89 567.77,527.45 568.38,528.03 568.99,528.61 569.60,529.20 570.21,529.80 570.82,530.40 571.44,531.01 572.05,531.63 572.66,532.25 573.27,532.88 573.88,533.51 574.49,534.14 575.10,534.78 575.71,535.42 576.32,536.05 576.94,536.69 577.55,537.33 578.16,537.97 578.77,538.60 579.38,539.23 579.99,539.86 580.60,540.49 581.21,541.11 581.82,541.72 582.44,542.33 583.05,542.93 583.66,543.53 584.27,544.11 584.88,544.70 585.49,545.27 586.10,545.84 586.71,546.39 587.33,546.95 587.94,547.49 588.55,548.03 589.16,548.56 589.77,549.09 590.38,549.60 590.99,550.12 591.60,550.62 592.21,551.12 592.83,551.61 593.44,552.09 594.05,552.57 594.66,553.04 595.27,553.51 595.88,553.97 596.49,554.42 597.10,554.87 597.71,555.31 598.33,555.74 598.94,556.17 599.55,556.59 600.16,557.00 600.77,557.41 601.38,557.81 601.99,558.21 602.60,558.60 603.21,558.99 603.83,559.37 604.44,559.74 605.05,560.11 605.66,560.47 606.27,560.83 606.88,561.18 607.49,561.52 608.10,561.86 608.71,562.20 609.33,562.53 609.94,562.85 610.55,563.17 611.16,563.48 611.77,563.79 612.38,564.09 612.99,564.39 613.60,564.68 614.21,564.97 614.83,565.25 615.44,565.53 616.05,565.80 616.66,566.07 617.27,566.33 617.88,566.59 618.49,566.84 619.10,567.09 619.71,567.33 620.33,567.57 620.94,567.81 621.55,568.04 622.16,568.26 622.77,568.48 623.38,568.70 623.99,568.91 624.60,569.12 625.21,569.32 625.83,569.52 626.44,569.71 627.05,569.90 627.66,570.09 628.27,570.27 628.88,570.45 629.49,570.62 630.10,570.80 630.72,570.96 631.33,571.12 631.94,571.28 632.55,571.44 633.16,571.59 633.77,571.74 634.38,571.88 634.99,572.03 635.60,572.16 636.22,572.30 636.83,572.43 637.44,572.56 638.05,572.68 638.66,572.80 639.27,572.92 639.88,573.04 640.49,573.15 641.10,573.26 641.72,573.37 642.33,573.47 642.94,573.58 643.55,573.68 644.16,573.77 644.77,573.87 645.38,573.96 645.99,574.05 646.60,574.13 647.22,574.22 647.83,574.30 648.44,574.38 649.05,574.46 649.66,574.54 650.27,574.61 650.88,574.68 651.49,574.75 652.10,574.82 652.72,574.89 653.33,574.96 653.94,575.02 654.55,575.08 655.16,575.14 655.77,575.20 656.38,575.26 656.99,575.31 657.60,575.37 658.22,575.42 658.83,575.48 659.44,575.53 660.05,575.58 660.66,575.63 661.27,575.68 661.88,575.72 662.49,575.77 663.10,575.82 663.72,575.86 664.33,575.91 664.94,575.95 665.55,575.99 666.16,576.04 666.77,576.08 667.38,576.12 667.99,576.16 668.61,576.20 669.22,576.24 669.83,576.28 670.44,576.32 671.05,576.36 671.66,576.40 672.27,576.44 672.88,576.48 673.49,576.52 674.11,576.55 674.72,576.59 675.33,576.62 675.94,576.66 676.55,576.70 677.16,576.73 677.77,576.76 678.38,576.80 678.99,576.83 679.61,576.86 680.22,576.90 680.83,576.93 681.44,576.96 682.05,576.99 682.66,577.02 683.27,577.05 683.88,577.08 684.49,577.11 685.11,577.14 685.72,577.17 686.33,577.20 686.94,577.23 687.55,577.26 688.16,577.29 688.77,577.31 689.38,577.34 689.99,577.37 690.61,577.40 691.22,577.42 691.83,577.45 692.44,577.47 693.05,577.50 693.66,577.52 694.27,577.55 694.88,577.57 695.49,577.60 696.11,577.62 696.72,577.65 697.33,577.67 697.94,577.69 698.55,577.72 699.16,577.74 699.77,577.76 700.38,577.79 700.99,577.81 701.61,577.83 702.22,577.85 702.83,577.87 703.44,577.90 704.05,577.92 704.66,577.94 705.27,577.96 705.88,577.98 706.49,578.00 707.11,578.02 707.72,578.04 708.33,578.06 708.94,578.08 709.55,578.10 710.16,578.12 710.77,578.14 711.38,578.16 712.00,578.18 712.61,578.20 713.22,578.22 713.83,578.24 714.44,578.25 715.05,578.27 715.66,578.29 716.27,578.31 716.88,578.33 717.50,578.35 718.11,578.37 718.72,578.38 719.33,578.40 719.94,578.42 720.55,578.44 721.16,578.45 721.77,578.47 722.38,578.49 723.00,578.51 723.61,578.52 724.22,578.54 724.83,578.56 725.44,578.58 726.05,578.59 726.66,578.61 727.27,578.63 727.88,578.64 728.50,578.66 729.11,578.68 729.72,578.69 730.33,578.71 730.94,578.72 731.55,578.74 732.16,578.76 732.77,578.77 733.38,578.79 734.00,578.80 734.61,578.82 735.22,578.83 735.83,578.85 736.44,578.86 737.05,578.88 737.66,578.89 738.27,578.91 738.88,578.92 739.50,578.94 740.11,578.95 740.72,578.97 741.33,578.98 741.94,579.00 742.55,579.01 743.16,579.03 743.77,579.04 744.38,579.05 745.00,579.07 745.61,579.08 746.22,579.10 746.83,579.11 747.44,579.12 748.05,579.14 748.66,579.15 749.27,579.16 749.88,579.18 750.50,579.19 751.11,579.20 751.72,579.22 752.33,579.23 752.94,579.24 753.55,579.25 754.16,579.27 754.77,579.28 755.39,579.29 756.00,579.30 756.61,579.32 757.22,579.33 757.83,579.34 758.44,579.35 759.05,579.36 759.66,579.38 760.27,579.39 760.89,579.40 761.50,579.41 762.11,579.42 762.72,579.43 763.33,579.44 763.94,579.46 764.55,579.47 765.16,579.48 765.77,579.49 766.39,579.50 767.00,579.51 767.61,579.52 768.22,579.53 768.83,579.54 769.44,579.55 770.05,579.56 770.66,579.57 771.27,579.58 771.89,579.59 772.50,579.61 773.11,579.62 773.72,579.63 774.33,579.63 774.94,579.64 775.55,579.65 776.16,579.66 776.77,579.67 777.39,579.68 778.00,579.69 778.61,579.70 779.22,579.71 779.83,579.72 780.44,579.73 781.05,579.74 781.66,579.75 782.27,579.76 782.89,579.77 783.50,579.77 784.11,579.78 784.72,579.79 785.33,579.80 785.94,579.81 786.55,579.82 787.16,579.83 787.77,579.83 788.39,579.84 789.00,579.85 789.61,579.86 790.22,579.87 790.83,579.87 791.44,579.88 792.05,579.89 792.66,579.90 793.28,579.91 793.89,579.91 794.50,579.92 795.11,579.93 795.72,579.94 796.33,579.94 796.94,579.95 797.55,579.96 798.16,579.96 798.78,579.97 799.39,579.98 800.00,579.99 800.61,579.99 801.22,580.00 801.83,580.01 802.44,580.01 803.05,580.02 803.66,580.03 804.28,580.03 804.89,580.04 805.50,580.04 806.11,580.05 806.72,580.06 807.33,580.06 807.94,580.07 808.55,580.08 809.16,580.08 809.78,580.09 810.39,580.09 811.00,580.10 811.61,580.11 812.22,580.11 812.83,580.12 813.44,580.12 814.05,580.13 814.66,580.13 815.28,580.14 815.89,580.14 816.50,580.15 817.11,580.15 817.72,580.16 818.33,580.16 818.94,580.17 819.55,580.18 820.16,580.18 820.78,580.18 821.39,580.19 822.00,580.19 822.61,580.20 823.22,580.20 823.83,580.21 824.44,580.21 825.05,580.22 825.66,580.22 826.28,580.23 826.89,580.23 827.50,580.24 828.11,580.24 828.72,580.24 829.33,580.25 829.94,580.25 830.55,580.26 831.16,580.26 831.78,580.26 832.39,580.27 833.00,580.27 833.61,580.28 834.22,580.28 834.83,580.28 835.44,580.29 836.05,580.29 836.67,580.30 837.28,580.30 837.89,580.30 838.50,580.31 839.11,580.31 839.72,580.31 840.33,580.32 840.94,580.32 841.55,580.32 842.17,580.33 842.78,580.33 843.39,580.33 844.00,580.34 844.61,580.34 845.22,580.34 845.83,580.34 846.44,580.35 847.05,580.35 847.67,580.35 848.28,580.36 848.89,580.36 849.50,580.36 850.11,580.36 850.72,580.37 851.33,580.37 851.94,580.37 852.55,580.37 853.17,580.38 853.78,580.38 854.39,580.38 855.00,580.38 855.61,580.39 856.22,580.39 856.83,580.39 857.44,580.39 858.05,580.40 858.67,580.40 859.28,580.40 859.89,580.40 860.50,580.40 861.11,580.41 861.72,580.41 862.33,580.41 862.94,580.41 863.55,580.41 864.17,580.42 864.78,580.42 865.39,580.42 866.00,580.42 866.61,580.42 867.22,580.42 867.83,580.43 868.44,580.43 869.05,580.43 869.67,580.43 870.28,580.43 870.89,580.43 871.50,580.44 872.11,580.44 872.72,580.44 873.33,580.44 873.94,580.44 874.55,580.44 875.17,580.44 875.78,580.45 876.39,580.45 877.00,580.45 877.61,580.45 878.22,580.45 878.83,580.45 879.44,580.45 880.06,580.45 880.67,580.45 881.28,580.46 881.89,580.46 882.50,580.46 883.11,580.46 883.72,580.46 884.33,580.46 884.94,580.46 885.56,580.46 886.17,580.46 886.78,580.46 887.39,580.47 888.00,580.47 888.61,580.47 889.22,580.47 889.83,580.47 890.44,580.47 891.06,580.47 891.67,580.47 892.28,580.47 892.89,580.47 893.50,580.47 894.11,580.47 894.72,580.47 895.33,580.47 895.94,580.47 896.56,580.48 897.17,580.48 897.78,580.48 898.39,580.48 899.00,580.48 899.61,580.48 900.22,580.48 900.83,580.48 901.44,580.48 902.06,580.48 902.67,580.48 903.28,580.48 903.89,580.48 904.50,580.48 905.11,580.48 905.72,580.48 906.33,580.48 906.94,580.48 907.56,580.48 908.17,580.48 908.78,580.48 909.39,580.48 910.00,580.48 910.61,580.48 911.22,580.48 911.83,580.48 912.44,580.49 913.06,580.49 913.67,580.49 914.28,580.49 914.89,580.49 915.50,580.49 916.11,580.49 916.72,580.49 917.33,580.49 917.95,580.49 918.56,580.49 919.17,580.49 919.78,580.49 920.39,580.49 921.00,580.49 921.61,580.49 922.22,580.49 922.83,580.49 923.45,580.49 924.06,580.49 924.67,580.49 925.28,580.49 925.89,580.49 926.50,580.49 927.11,580.49 927.72,580.49 928.33,580.49 928.95,580.49 929.56,580.49 930.17,580.49 930.78,580.49 931.39,580.49 932.00,580.49 932.61,580.49 933.22,580.49 933.83,580.49 934.45,580.49 935.06,580.49 935.67,580.49 936.28,580.49 936.89,580.49 937.50,580.49 938.11,580.49 938.72,580.49 939.33,580.49 939.95,580.49 940.56,580.49 941.17,580.49 941.78,580.49 942.39,580.49 943.00,580.49 943.61,580.49 944.22,580.49 944.83,580.49 945.45,580.49 946.06,580.49 946.67,580.49 947.28,580.49 947.89,580.49 948.50,580.49 949.11,580.49 949.72,580.49 950.33,580.49 950.95,580.49 951.56,580.49 952.17,580.49 952.78,580.50 953.39,580.50 954.00,580.50 954.61,580.50 955.22,580.50 955.83,580.50 956.45,580.50 957.06,580.50 957.67,580.50 958.28,580.50 958.89,580.50 959.50,580.50 960.11,580.50 960.72,580.50 961.34,580.50 961.95,580.50 962.56,580.50 963.17,580.50 963.78,580.50 964.39,580.50 965.00,580.50 965.61,580.50 966.22,580.51 966.84,580.51 967.45,580.51 968.06,580.51 968.67,580.51 969.28,580.51 969.89,580.51 970.50,580.51 971.11,580.51 971.72,580.51 972.34,580.51 972.95,580.51 973.56,580.51 974.17,580.51 974.78,580.52 975.39,580.52 976.00,580.52 976.61,580.52 977.22,580.52 977.84,580.52 978.45,580.52 979.06,580.52 979.67,580.52 980.28,580.52" fill="none" stroke="#0000ff" stroke-width="3.5" stroke-linejoin="round"/>
<rect x="57.50" y="582.30" width="13.4" height="13.4" fill="#0000ff"/>
<rect x="95.67" y="582.30" width="13.4" height="13.4" fill="#0000ff"/>
<rect x="133.84" y="582.10" width="13.4" height="13.4" fill="#0000ff"/>
<rect x="172.01" y="581.10" width="13.4" height="13.4" fill="#0000ff"/>
<rect x="210.18" y="580.70" width="13.4" height="13.4" fill="#0000ff"/>
<rect x="248.35" y="578.90" width="13.4" height="13.4" fill="#0000ff"/>
<rect x="286.52" y="573.00" width="13.4" height="13.4" fill="#0000ff"/>
<rect x="324.69" y="539.40" width="13.4" height="13.4" fill="#0000ff"/>
<rect x="362.86" y="461.50" width="13.4" height="13.4" fill="#0000ff"/>
<rect x="401.03" y="460.10" width="13.4" height="13.4" fill="#0000ff"/>
<rect x="439.20" y="477.40" width="13.4" height="13.4" fill="#0000ff"/>
<rect x="477.37" y="489.80" width="13.4" height="13.4" fill="#0000ff"/>
<rect x="515.54" y="511.30" width="13.4" height="13.4" fill="#0000ff"/>
<rect x="553.71" y="514.80" width="13.4" height="13.4" fill="#0000ff"/>
<rect x="591.88" y="549.60" width="13.4" height="13.4" fill="#0000ff"/>
<rect x="630.05" y="565.80" width="13.4" height="13.4" fill="#0000ff"/>
<rect x="668.22" y="569.80" width="13.4" height="13.4" fill="#0000ff"/>
<rect x="706.39" y="571.80" width="13.4" height="13.4" fill="#0000ff"/>
<rect x="744.56" y="572.50" width="13.4" height="13.4" fill="#0000ff"/>
<rect x="782.73" y="573.00" width="13.4" height="13.4" fill="#0000ff"/>
<rect x="820.90" y="573.50" width="13.4" height="13.4" fill="#0000ff"/>
<rect x="859.07" y="573.80" width="13.4" height="13.4" fill="#0000ff"/>
<rect x="897.24" y="573.80" width="13.4" height="13.4" fill="#0000ff"/>
<rect x="935.41" y="573.80" width="13.4" height="13.4" fill="#0000ff"/>
<rect x="973.58" y="573.80" width="13.4" height="13.4" fill="#0000ff"/>
<polyline points="64.20,588.98 64.81,588.97 65.42,588.96 66.03,588.94 66.64,588.93 67.26,588.92 67.87,588.91 68.48,588.89 69.09,588.88 69.70,588.87 70.31,588.86 70.92,588.85 71.53,588.84 72.14,588.83 72.76,588.82 73.37,588.81 73.98,588.80 74.59,588.79 75.20,588.78 75.81,588.77 76.42,588.76 77.03,588.75 77.64,588.74 78.26,588.74 78.87,588.73 79.48,588.72 80.09,588.71 80.70,588.71 81.31,588.70 81.92,588.69 82.53,588.68 83.14,588.68 83.76,588.67 84.37,588.66 84.98,588.66 85.59,588.65 86.20,588.65 86.81,588.64 87.42,588.64 88.03,588.63 88.65,588.63 89.26,588.62 89.87,588.62 90.48,588.61 91.09,588.61 91.70,588.60 92.31,588.60 92.92,588.59 93.53,588.59 94.15,588.59 94.76,588.58 95.37,588.58 95.98,588.58 96.59,588.58 97.20,588.57 97.81,588.57 98.42,588.57 99.03,588.57 99.65,588.56 100.26,588.56 100.87,588.56 101.48,588.56 102.09,588.56 102.70,588.56 103.31,588.55 103.92,588.55 104.53,588.55 105.15,588.55 105.76,588.55 106.37,588.55 106.98,588.55 107.59,588.55 108.20,588.55 108.81,588.55 109.42,588.55 110.03,588.55 110.65,588.55 111.26,588.55 111.87,588.55 112.48,588.55 113.09,588.55 113.70,588.55 114.31,588.55 114.92,588.56 115.53,588.56 116.15,588.56 116.76,588.56 117.37,588.56 117.98,588.56 118.59,588.56 119.20,588.57 119.81,588.57 120.42,588.57 121.03,588.57 121.65,588.57 122.26,588.58 122.87,588.58 123.48,588.58 124.09,588.58 124.70,588.59 125.31,588.59 125.92,588.59 126.53,588.60 127.15,588.60 127.76,588.60 128.37,588.61 128.98,588.61 129.59,588.61 130.20,588.62 130.81,588.62 131.42,588.62 132.04,588.63 132.65,588.63 133.26,588.63 133.87,588.64 134.48,588.64 135.09,588.64 135.70,588.65 136.31,588.65 136.92,588.66 137.54,588.66 138.15,588.67 138.76,588.67 139.37,588.67 139.98,588.68 140.59,588.68 141.20,588.69 141.81,588.69 142.42,588.70 143.04,588.70 143.65,588.70 144.26,588.71 144.87,588.71 145.48,588.72 146.09,588.72 146.70,588.73 147.31,588.73 147.92,588.74 148.54,588.74 149.15,588.75 149.76,588.75 150.37,588.76 150.98,588.76 151.59,588.77 152.20,588.77 152.81,588.78 153.42,588.78 154.04,588.79 154.65,588.79 155.26,588.80 155.87,588.80 156.48,588.80 157.09,588.81 157.70,588.81 158.31,588.82 158.92,588.82 159.54,588.83 160.15,588.83 160.76,588.84 161.37,588.84 161.98,588.85 162.59,588.85 163.20,588.86 163.81,588.86 164.42,588.87 165.04,588.87 165.65,588.88 166.26,588.88 166.87,588.89 167.48,588.89 168.09,588.90 168.70,588.90 169.31,588.91 169.93,588.91 170.54,588.91 171.15,588.92 171.76,588.92 172.37,588.93 172.98,588.93 173.59,588.94 174.20,588.94 174.81,588.95 175.43,588.95 176.04,588.95 176.65,588.96 177.26,588.96 177.87,588.97 178.48,588.97 179.09,588.97 179.70,588.98 180.31,588.98 180.93,588.98 181.54,588.99 182.15,588.99 182.76,589.00 183.37,589.00 183.98,589.00 184.59,589.01 185.20,589.01 185.81,589.01 186.43,589.01 187.04,589.02 187.65,589.02 188.26,589.02 188.87,589.03 189.48,589.03 190.09,589.03 190.70,589.03 191.31,589.04 191.93,589.04 192.54,589.04 193.15,589.04 193.76,589.04 194.37,589.05 194.98,589.05 195.59,589.05 196.20,589.05 196.81,589.05 197.43,589.05 198.04,589.06 198.65,589.06 199.26,589.06 199.87,589.06 200.48,589.06 201.09,589.06 201.70,589.06 202.31,589.06 202.93,589.06 203.54,589.06 204.15,589.06 204.76,589.06 205.37,589.06 205.98,589.06 206.59,589.06 207.20,589.06 207.81,589.06 208.43,589.06 209.04,589.06 209.65,589.06 210.26,589.06 210.87,589.06 211.48,589.05 212.09,589.05 212.70,589.05 213.32,589.05 213.93,589.05 214.54,589.04 215.15,589.04 215.76,589.04 216.37,589.04 216.98,589.03 217.59,589.03 218.20,589.03 218.82,589.03 219.43,589.02 220.04,589.02 220.65,589.01 221.26,589.01 221.87,589.01 222.48,589.00 223.09,589.00 223.70,588.99 224.32,588.99 224.93,588.98 225.54,588.98 226.15,588.97 226.76,588.97 227.37,588.96 227.98,588.96 228.59,588.95 229.20,588.94 229.82,588.94 230.43,588.93 231.04,588.92 231.65,588.92 232.26,588.91 232.87,588.90 233.48,588.89 234.09,588.89 234.70,588.88 235.32,588.87 235.93,588.86 236.54,588.85 237.15,588.84 237.76,588.84 238.37,588.83 238.98,588.82 239.59,588.81 240.20,588.80 240.82,588.79 241.43,588.78 242.04,588.77 242.65,588.76 243.26,588.74 243.87,588.73 244.48,588.72 245.09,588.71 245.70,588.70 246.32,588.69 246.93,588.67 247.54,588.66 248.15,588.65 248.76,588.64 249.37,588.62 249.98,588.61 250.59,588.60 251.20,588.58 251.82,588.57 252.43,588.55 253.04,588.54 253.65,588.52 254.26,588.51 254.87,588.49 255.48,588.48 256.09,588.46 256.71,588.44 257.32,588.43 257.93,588.41 258.54,588.39 259.15,588.38 259.76,588.36 260.37,588.34 260.98,588.32 261.59,588.30 262.21,588.28 262.82,588.27 263.43,588.25 264.04,588.23 264.65,588.21 265.26,588.19 265.87,588.17 266.48,588.15 267.09,588.12 267.71,588.10 268.32,588.08 268.93,588.06 269.54,588.04 270.15,588.02 270.76,587.99 271.37,587.97 271.98,587.95 272.59,587.92 273.21,587.90 273.82,587.87 274.43,587.85 275.04,587.83 275.65,587.80 276.26,587.77 276.87,587.75 277.48,587.72 278.09,587.70 278.71,587.67 279.32,587.64 279.93,587.62 280.54,587.59 281.15,587.56 281.76,587.53 282.37,587.50 282.98,587.47 283.59,587.44 284.21,587.41 284.82,587.38 285.43,587.35 286.04,587.32 286.65,587.29 287.26,587.26 287.87,587.23 288.48,587.20 289.09,587.17 289.71,587.13 290.32,587.10 290.93,587.07 291.54,587.03 292.15,587.00 292.76,586.96 293.37,586.93 293.98,586.89 294.60,586.86 295.21,586.82 295.82,586.79 296.43,586.75 297.04,586.71 297.65,586.68 298.26,586.64 298.87,586.60 299.48,586.56 300.10,586.52 300.71,586.48 301.32,586.44 301.93,586.40 302.54,586.36 303.15,586.32 303.76,586.28 304.37,586.24 304.98,586.20 305.60,586.16 306.21,586.11 306.82,586.07 307.43,586.03 308.04,585.98 308.65,585.94 309.26,585.90 309.87,585.85 310.48,585.80 311.10,585.76 311.71,585.71 312.32,585.67 312.93,585.62 313.54,585.57 314.15,585.52 314.76,585.47 315.37,585.42 315.98,585.37 316.60,585.31 317.21,585.25 317.82,585.19 318.43,585.13 319.04,585.07 319.65,585.00 320.26,584.93 320.87,584.85 321.48,584.77 322.10,584.69 322.71,584.61 323.32,584.52 323.93,584.42 324.54,584.33 325.15,584.22 325.76,584.11 326.37,584.00 326.98,583.88 327.60,583.76 328.21,583.63 328.82,583.49 329.43,583.35 330.04,583.20 330.65,583.04 331.26,582.88 331.87,582.71 332.48,582.54 333.10,582.35 333.71,582.16 334.32,581.96 334.93,581.76 335.54,581.54 336.15,581.32 336.76,581.08 337.37,580.84 337.99,580.59 338.60,580.33 339.21,580.06 339.82,579.78 340.43,579.49 341.04,579.20 341.65,578.89 342.26,578.57 342.87,578.24 343.49,577.89 344.10,577.54 344.71,577.18 345.32,576.80 345.93,576.42 346.54,576.02 347.15,575.61 347.76,575.18 348.37,574.75 348.99,574.30 349.60,573.84 350.21,573.36 350.82,572.87 351.43,572.37 352.04,571.85 352.65,571.33 353.26,570.78 353.87,570.22 354.49,569.65 355.10,569.06 355.71,568.46 356.32,567.84 356.93,567.21 357.54,566.56 358.15,565.89 358.76,565.21 359.37,564.52 359.99,563.80 360.60,563.07 361.21,562.33 361.82,561.56 362.43,560.78 363.04,559.98 363.65,559.17 364.26,558.34 364.87,557.50 365.49,556.64 366.10,555.77 366.71,554.90 367.32,554.01 367.93,553.11 368.54,552.20 369.15,551.29 369.76,550.37 370.37,549.45 370.99,548.52 371.60,547.59 372.21,546.65 372.82,545.72 373.43,544.78 374.04,543.84 374.65,542.91 375.26,541.97 375.87,541.04 376.49,540.12 377.10,539.20 377.71,538.28 378.32,537.37 378.93,536.48 379.54,535.58 380.15,534.70 380.76,533.83 381.38,532.97 381.99,532.13 382.60,531.30 383.21,530.48 383.82,529.67 384.43,528.89 385.04,528.12 385.65,527.37 386.26,526.64 386.88,525.93 387.49,525.24 388.10,524.57 388.71,523.92 389.32,523.30 389.93,522.71 390.54,522.14 391.15,521.60 391.76,521.08 392.38,520.59 392.99,520.14 393.60,519.71 394.21,519.31 394.82,518.95 395.43,518.62 396.04,518.33 396.65,518.06 397.26,517.83 397.88,517.63 398.49,517.46 399.10,517.32 399.71,517.21 400.32,517.13 400.93,517.08 401.54,517.05 402.15,517.05 402.76,517.08 403.38,517.13 403.99,517.21 404.60,517.31 405.21,517.43 405.82,517.58 406.43,517.74 407.04,517.93 407.65,518.14 408.26,518.37 408.88,518.62 409.49,518.89 410.10,519.18 410.71,519.48 411.32,519.80 411.93,520.14 412.54,520.49 413.15,520.86 413.76,521.24 414.38,521.63 414.99,522.04 415.60,522.46 416.21,522.89 416.82,523.33 417.43,523.77 418.04,524.23 418.65,524.69 419.27,525.15 419.88,525.62 420.49,526.08 421.10,526.55 421.71,527.02 422.32,527.48 422.93,527.94 423.54,528.40 424.15,528.85 424.77,529.29 425.38,529.72 425.99,530.14 426.60,530.55 427.21,530.95 427.82,531.33 428.43,531.69 429.04,532.04 429.65,532.37 430.27,532.68 430.88,532.98 431.49,533.25 432.10,533.50 432.71,533.73 433.32,533.94 433.93,534.14 434.54,534.32 435.15,534.48 435.77,534.62 436.38,534.75 436.99,534.86 437.60,534.95 438.21,535.03 438.82,535.10 439.43,535.15 440.04,535.19 440.65,535.21 441.27,535.23 441.88,535.22 442.49,535.21 443.10,535.19 443.71,535.15 444.32,535.10 444.93,535.05 445.54,534.98 446.15,534.90 446.77,534.82 447.38,534.73 447.99,534.62 448.60,534.51 449.21,534.40 449.82,534.27 450.43,534.14 451.04,534.01 451.65,533.86 452.27,533.72 452.88,533.57 453.49,533.41 454.10,533.25 454.71,533.09 455.32,532.92 455.93,532.75 456.54,532.58 457.15,532.41 457.77,532.24 458.38,532.06 458.99,531.89 459.60,531.72 460.21,531.54 460.82,531.37 461.43,531.20 462.04,531.03 462.66,530.86 463.27,530.70 463.88,530.54 464.49,530.38 465.10,530.23 465.71,530.08 466.32,529.94 466.93,529.80 467.54,529.67 468.16,529.54 468.77,529.42 469.38,529.31 469.99,529.20 470.60,529.10 471.21,529.02 471.82,528.94 472.43,528.86 473.04,528.80 473.66,528.75 474.27,528.71 474.88,528.68 475.49,528.66 476.10,528.66 476.71,528.66 477.32,528.67 477.93,528.69 478.54,528.72 479.16,528.77 479.77,528.82 480.38,528.88 480.99,528.95 481.60,529.03 482.21,529.12 482.82,529.21 483.43,529.32 484.04,529.43 484.66,529.56 485.27,529.69 485.88,529.83 486.49,529.98 487.10,530.13 487.71,530.29 488.32,530.47 488.93,530.64 489.54,530.83 490.16,531.02 490.77,531.22 491.38,531.43 491.99,531.64 492.60,531.86 493.21,532.09 493.82,532.32 494.43,532.56 495.04,532.80 495.66,533.05 496.27,533.31 496.88,533.57 497.49,533.84 498.10,534.11 498.71,534.39 499.32,534.67 499.93,534.96 500.54,535.25 501.16,535.54 501.77,535.84 502.38,536.14 502.99,536.45 503.60,536.75 504.21,537.06 504.82,537.37 505.43,537.67 506.05,537.98 506.66,538.28 507.27,538.58 507.88,538.88 508.49,539.17 509.10,539.46 509.71,539.75 510.32,540.03 510.93,540.30 511.55,540.57 512.16,540.83 512.77,541.08 513.38,541.32 513.99,541.55 514.60,541.77 515.21,541.98 515.82,542.18 516.43,542.37 517.05,542.55 517.66,542.73 518.27,542.89 518.88,543.04 519.49,543.19 520.10,543.32 520.71,543.45 521.32,543.56 521.93,543.67 522.55,543.77 523.16,543.86 523.77,543.94 524.38,544.01 524.99,544.08 525.60,544.14 526.21,544.19 526.82,544.23 527.43,544.26 528.05,544.29 528.66,544.30 529.27,544.31 529.88,544.32 530.49,544.31 531.10,544.30 531.71,544.28 532.32,544.26 532.93,544.23 533.55,544.19 534.16,544.14 534.77,544.09 535.38,544.03 535.99,543.97 536.60,543.90 537.21,543.82 537.82,543.74 538.43,543.66 539.05,543.57 539.66,543.48 540.27,543.38 540.88,543.28 541.49,543.18 542.10,543.08 542.71,542.97 543.32,542.87 543.94,542.76 544.55,542.66 545.16,542.55 545.77,542.44 546.38,542.33 546.99,542.23 547.60,542.13 548.21,542.02 548.82,541.92 549.44,541.83 550.05,541.73 550.66,541.64 551.27,541.56 551.88,541.48 552.49,541.40 553.10,541.33 553.71,541.26 554.32,541.20 554.94,541.14 555.55,541.09 556.16,541.05 556.77,541.02 557.38,540.99 557.99,540.98 558.60,540.97 559.21,540.97 559.82,540.98 560.44,541.00 561.05,541.03 561.66,541.07 562.27,541.12 562.88,541.17 563.49,541.24 564.10,541.32 564.71,541.41 565.32,541.50 565.94,541.60 566.55,541.72 567.16,541.84 567.77,541.96 568.38,542.10 568.99,542.24 569.60,542.39 570.21,542.54 570.82,542.71 571.44,542.88 572.05,543.05 572.66,543.23 573.27,543.42 573.88,543.61 574.49,543.81 575.10,544.01 575.71,544.22 576.32,544.43 576.94,544.65 577.55,544.87 578.16,545.09 578.77,545.32 579.38,545.55 579.99,545.79 580.60,546.03 581.21,546.27 581.82,546.51 582.44,546.76 583.05,547.01 583.66,547.26 584.27,547.51 584.88,547.76 585.49,548.02 586.10,548.27 586.71,548.53 587.33,548.79 587.94,549.04 588.55,549.30 589.16,549.56 589.77,549.82 590.38,550.07 590.99,550.33 591.60,550.59 592.21,550.84 592.83,551.10 593.44,551.35 594.05,551.60 594.66,551.85 595.27,552.10 595.88,552.35 596.49,552.60 597.10,552.85 597.71,553.10 598.33,553.35 598.94,553.59 599.55,553.84 600.16,554.08 600.77,554.32 601.38,554.56 601.99,554.80 602.60,555.04 603.21,555.28 603.83,555.51 604.44,555.75 605.05,555.98 605.66,556.21 606.27,556.44 606.88,556.67 607.49,556.90 608.10,557.13 608.71,557.35 609.33,557.58 609.94,557.80 610.55,558.02 611.16,558.23 611.77,558.45 612.38,558.67 612.99,558.88 613.60,559.09 614.21,559.30 614.83,559.51 615.44,559.71 616.05,559.92 616.66,560.12 617.27,560.32 617.88,560.52 618.49,560.71 619.10,560.91 619.71,561.10 620.33,561.29 620.94,561.47 621.55,561.66 622.16,561.84 622.77,562.02 623.38,562.20 623.99,562.38 624.60,562.55 625.21,562.73 625.83,562.90 626.44,563.07 627.05,563.23 627.66,563.40 628.27,563.56 628.88,563.72 629.49,563.88 630.10,564.04 630.72,564.19 631.33,564.35 631.94,564.50 632.55,564.65 633.16,564.80 633.77,564.94 634.38,565.09 634.99,565.23 635.60,565.37 636.22,565.51 636.83,565.65 637.44,565.78 638.05,565.92 638.66,566.05 639.27,566.18 639.88,566.31 640.49,566.44 641.10,566.56 641.72,566.69 642.33,566.81 642.94,566.93 643.55,567.05 644.16,567.17 644.77,567.28 645.38,567.40 645.99,567.51 646.60,567.63 647.22,567.74 647.83,567.85 648.44,567.95 649.05,568.06 649.66,568.16 650.27,568.27 650.88,568.37 651.49,568.47 652.10,568.57 652.72,568.67 653.33,568.77 653.94,568.86 654.55,568.96 655.16,569.05 655.77,569.14 656.38,569.23 656.99,569.32 657.60,569.41 658.22,569.50 658.83,569.59 659.44,569.67 660.05,569.76 660.66,569.84 661.27,569.92 661.88,570.00 662.49,570.08 663.10,570.16 663.72,570.24 664.33,570.32 664.94,570.39 665.55,570.47 666.16,570.54 666.77,570.61 667.38,570.69 667.99,570.76 668.61,570.83 669.22,570.90 669.83,570.97 670.44,571.04 671.05,571.10 671.66,571.17 672.27,571.23 672.88,571.30 673.49,571.36 674.11,571.43 674.72,571.49 675.33,571.55 675.94,571.61 676.55,571.67 677.16,571.73 677.77,571.79 678.38,571.85 678.99,571.91 679.61,571.97 680.22,572.02 680.83,572.08 681.44,572.14 682.05,572.19 682.66,572.25 683.27,572.30 683.88,572.36 684.49,572.41 685.11,572.46 685.72,572.52 686.33,572.57 686.94,572.62 687.55,572.67 688.16,572.72 688.77,572.77 689.38,572.82 689.99,572.87 690.61,572.92 691.22,572.97 691.83,573.02 692.44,573.07 693.05,573.12 693.66,573.17 694.27,573.22 694.88,573.27 695.49,573.31 696.11,573.36 696.72,573.41 697.33,573.46 697.94,573.50 698.55,573.55 699.16,573.60 699.77,573.64 700.38,573.69 700.99,573.73 701.61,573.78 702.22,573.82 702.83,573.87 703.44,573.91 704.05,573.95 704.66,574.00 705.27,574.04 705.88,574.08 706.49,574.13 707.11,574.17 707.72,574.21 708.33,574.26 708.94,574.30 709.55,574.34 710.16,574.38 710.77,574.42 711.38,574.46 712.00,574.50 712.61,574.54 713.22,574.58 713.83,574.62 714.44,574.66 715.05,574.70 715.66,574.74 716.27,574.78 716.88,574.82 717.50,574.86 718.11,574.89 718.72,574.93 719.33,574.97 719.94,575.01 720.55,575.04 721.16,575.08 721.77,575.12 722.38,575.15 723.00,575.19 723.61,575.23 724.22,575.26 724.83,575.30 725.44,575.33 726.05,575.37 726.66,575.40 727.27,575.44 727.88,575.47 728.50,575.50 729.11,575.54 729.72,575.57 730.33,575.60 730.94,575.64 731.55,575.67 732.16,575.70 732.77,575.73 733.38,575.77 734.00,575.80 734.61,575.83 735.22,575.86 735.83,575.89 736.44,575.92 737.05,575.95 737.66,575.98 738.27,576.01 738.88,576.05 739.50,576.07 740.11,576.10 740.72,576.13 741.33,576.16 741.94,576.19 742.55,576.22 743.16,576.25 743.77,576.28 744.38,576.31 745.00,576.33 745.61,576.36 746.22,576.39 746.83,576.42 747.44,576.44 748.05,576.47 748.66,576.50 749.27,576.52 749.88,576.55 750.50,576.58 751.11,576.60 751.72,576.63 752.33,576.65 752.94,576.68 753.55,576.70 754.16,576.73 754.77,576.75 755.39,576.78 756.00,576.80 756.61,576.82 757.22,576.85 757.83,576.87 758.44,576.90 759.05,576.92 759.66,576.94 760.27,576.96 760.89,576.99 761.50,577.01 762.11,577.03 762.72,577.05 763.33,577.08 763.94,577.10 764.55,577.12 765.16,577.14 765.77,577.16 766.39,577.18 767.00,577.20 767.61,577.22 768.22,577.24 768.83,577.26 769.44,577.28 770.05,577.30 770.66,577.32 771.27,577.34 771.89,577.36 772.50,577.38 773.11,577.40 773.72,577.42 774.33,577.44 774.94,577.46 775.55,577.47 776.16,577.49 776.77,577.51 777.39,577.53 778.00,577.55 778.61,577.56 779.22,577.58 779.83,577.60 780.44,577.61 781.05,577.63 781.66,577.65 782.27,577.66 782.89,577.68 783.50,577.70 784.11,577.71 784.72,577.73 785.33,577.74 785.94,577.76 786.55,577.77 787.16,577.79 787.77,577.80 788.39,577.82 789.00,577.83 789.61,577.85 790.22,577.86 790.83,577.88 791.44,577.89 792.05,577.90 792.66,577.92 793.28,577.93 793.89,577.94 794.50,577.96 795.11,577.97 795.72,577.98 796.33,578.00 796.94,578.01 797.55,578.02 798.16,578.03 798.78,578.05 799.39,578.06 800.00,578.07 800.61,578.08 801.22,578.09 801.83,578.11 802.44,578.12 803.05,578.13 803.66,578.14 804.28,578.15 804.89,578.16 805.50,578.17 806.11,578.18 806.72,578.19 807.33,578.20 807.94,578.21 808.55,578.22 809.16,578.23 809.78,578.24 810.39,578.25 811.00,578.26 811.61,578.27 812.22,578.28 812.83,578.29 813.44,578.30 814.05,578.31 814.66,578.32 815.28,578.33 815.89,578.34 816.50,578.34 817.11,578.35 817.72,578.36 818.33,578.37 818.94,578.38 819.55,578.38 820.16,578.39 820.78,578.40 821.39,578.41 822.00,578.41 822.61,578.42 823.22,578.43 823.83,578.44 824.44,578.44 825.05,578.45 825.66,578.46 826.28,578.46 826.89,578.47 827.50,578.48 828.11,578.48 828.72,578.49 829.33,578.50 829.94,578.50 830.55,578.51 831.16,578.51 831.78,578.52 832.39,578.52 833.00,578.53 833.61,578.54 834.22,578.54 834.83,578.55 835.44,578.55 836.05,578.56 836.67,578.56 837.28,578.57 837.89,578.57 838.50,578.58 839.11,578.58 839.72,578.58 840.33,578.59 840.94,578.59 841.55,578.60 842.17,578.60 842.78,578.61 843.39,578.61 844.00,578.61 844.61,578.62 845.22,578.62 845.83,578.62 846.44,578.63 847.05,578.63 847.67,578.64 848.28,578.64 848.89,578.64 849.50,578.65 850.11,578.65 850.72,578.65 851.33,578.65 851.94,578.66 852.55,578.66 853.17,578.66 853.78,578.67 854.39,578.67 855.00,578.67 855.61,578.67 856.22,578.68 856.83,578.68 857.44,578.68 858.05,578.68 858.67,578.68 859.28,578.69 859.89,578.69 860.50,578.69 861.11,578.69 861.72,578.69 862.33,578.70 862.94,578.70 863.55,578.70 864.17,578.70 864.78,578.70 865.39,578.70 866.00,578.70 866.61,578.71 867.22,578.71 867.83,578.71 868.44,578.71 869.05,578.71 869.67,578.71 870.28,578.71 870.89,578.71 871.50,578.72 872.11,578.72 872.72,578.72 873.33,578.72 873.94,578.72 874.55,578.72 875.17,578.72 875.78,578.72 876.39,578.72 877.00,578.72 877.61,578.72 878.22,578.72 878.83,578.72 879.44,578.72 880.06,578.72 880.67,578.72 881.28,578.72 881.89,578.73 882.50,578.73 883.11,578.73 883.72,578.73 884.33,578.73 884.94,578.73 885.56,578.73 886.17,578.73 886.78,578.73 887.39,578.73 888.00,578.73 888.61,578.73 889.22,578.73 889.83,578.73 890.44,578.73 891.06,578.73 891.67,578.73 892.28,578.73 892.89,578.73 893.50,578.72 894.11,578.72 894.72,578.72 895.33,578.72 895.94,578.72 896.56,578.72 897.17,578.72 897.78,578.72 898.39,578.72 899.00,578.72 899.61,578.72 900.22,578.72 900.83,578.72 901.44,578.72 902.06,578.72 902.67,578.72 903.28,578.72 903.89,578.72 904.50,578.72 905.11,578.72 905.72,578.72 906.33,578.72 906.94,578.72 907.56,578.72 908.17,578.72 908.78,578.72 909.39,578.71 910.00,578.71 910.61,578.71 911.22,578.71 911.83,578.71 912.44,578.71 913.06,578.71 913.67,578.71 914.28,578.71 914.89,578.71 915.50,578.71 916.11,578.71 916.72,578.71 917.33,578.71 917.95,578.71 918.56,578.71 919.17,578.71 919.78,578.71 920.39,578.71 921.00,578.71 921.61,578.71 922.22,578.71 922.83,578.71 923.45,578.71 924.06,578.71 924.67,578.71 925.28,578.71 925.89,578.71 926.50,578.71 927.11,578.71 927.72,578.71 928.33,578.71 928.95,578.71 929.56,578.71 930.17,578.71 930.78,578.71 931.39,578.71 932.00,578.71 932.61,578.71 933.22,578.71 933.83,578.71 934.45,578.71 935.06,578.71 935.67,578.71 936.28,578.71 936.89,578.71 937.50,578.71 938.11,578.71 938.72,578.71 939.33,578.71 939.95,578.71 940.56,578.71 941.17,578.71 941.78,578.72 942.39,578.72 943.00,578.72 943.61,578.72 944.22,578.72 944.83,578.72 945.45,578.72 946.06,578.72 946.67,578.72 947.28,578.72 947.89,578.73 948.50,578.73 949.11,578.73 949.72,578.73 950.33,578.73 950.95,578.73 951.56,578.73 952.17,578.74 952.78,578.74 953.39,578.74 954.00,578.74 954.61,578.74 955.22,578.75 955.83,578.75 956.45,578.75 957.06,578.75 957.67,578.75 958.28,578.76 958.89,578.76 959.50,578.76 960.11,578.76 960.72,578.77 961.34,578.77 961.95,578.77 962.56,578.77 963.17,578.78 963.78,578.78 964.39,578.78 965.00,578.79 965.61,578.79 966.22,578.79 966.84,578.80 967.45,578.80 968.06,578.80 968.67,578.81 969.28,578.81 969.89,578.81 970.50,578.82 971.11,578.82 971.72,578.83 972.34,578.83 972.95,578.83 973.56,578.84 974.17,578.84 974.78,578.85 975.39,578.85 976.00,578.86 976.61,578.86 977.22,578.86 977.84,578.87 978.45,578.87 979.06,578.88 979.67,578.88 980.28,578.89" fill="none" stroke="#007300" stroke-width="3.5" stroke-linejoin="round"/>
<rect x="57.50" y="582.10" width="13.4" height="13.4" fill="#007300"/>
<rect x="95.67" y="582.10" width="13.4" height="13.4" fill="#007300"/>
<rect x="133.84" y="582.10" width="13.4" height="13.4" fill="#007300"/>
<rect x="172.01" y="582.10" width="13.4" height="13.4" fill="#007300"/>
<rect x="210.18" y="582.10" width="13.4" height="13.4" fill="#007300"/>
<rect x="248.35" y="581.80" width="13.4" height="13.4" fill="#007300"/>
<rect x="286.52" y="580.80" width="13.4" height="13.4" fill="#007300"/>
<rect x="324.69" y="576.30" width="13.4" height="13.4" fill="#007300"/>
<rect x="362.86" y="543.90" width="13.4" height="13.4" fill="#007300"/>
<rect x="401.03" y="511.50" width="13.4" height="13.4" fill="#007300"/>
<rect x="439.20" y="528.50" width="13.4" height="13.4" fill="#007300"/>
<rect x="477.37" y="522.80" width="13.4" height="13.4" fill="#007300"/>
<rect x="515.54" y="537.10" width="13.4" height="13.4" fill="#007300"/>
<rect x="553.71" y="534.30" width="13.4" height="13.4" fill="#007300"/>
<rect x="591.88" y="546.90" width="13.4" height="13.4" fill="#007300"/>
<rect x="630.05" y="558.70" width="13.4" height="13.4" fill="#007300"/>
<rect x="668.22" y="565.10" width="13.4" height="13.4" fill="#007300"/>
<rect x="706.39" y="567.90" width="13.4" height="13.4" fill="#007300"/>
<rect x="744.56" y="570.00" width="13.4" height="13.4" fill="#007300"/>
<rect x="782.73" y="571.00" width="13.4" height="13.4" fill="#007300"/>
<rect x="820.90" y="571.70" width="13.4" height="13.4" fill="#007300"/>
<rect x="859.07" y="572.00" width="13.4" height="13.4" fill="#007300"/>
<rect x="897.24" y="572.10" width="13.4" height="13.4" fill="#007300"/>
<rect x="935.41" y="572.10" width="13.4" height="13.4" fill="#007300"/>
<rect x="973.58" y="572.10" width="13.4" height="13.4" fill="#007300"/>
<polyline points="64.20,589.27 64.81,589.28 65.42,589.28 66.03,589.28 66.64,589.28 67.26,589.29 67.87,589.29 68.48,589.29 69.09,589.29 69.70,589.30 70.31,589.30 70.92,589.30 71.53,589.30 72.14,589.31 72.76,589.31 73.37,589.31 73.98,589.31 74.59,589.31 75.20,589.32 75.81,589.32 76.42,589.32 77.03,589.32 77.64,589.32 78.26,589.32 78.87,589.33 79.48,589.33 80.09,589.33 80.70,589.33 81.31,589.33 81.92,589.33 82.53,589.33 83.14,589.34 83.76,589.34 84.37,589.34 84.98,589.34 85.59,589.34 86.20,589.34 86.81,589.34 87.42,589.34 88.03,589.34 88.65,589.35 89.26,589.35 89.87,589.35 90.48,589.35 91.09,589.35 91.70,589.35 92.31,589.35 92.92,589.35 93.53,589.35 94.15,589.35 94.76,589.35 95.37,589.35 95.98,589.35 96.59,589.35 97.20,589.35 97.81,589.35 98.42,589.35 99.03,589.35 99.65,589.35 100.26,589.36 100.87,589.36 101.48,589.36 102.09,589.36 102.70,589.36 103.31,589.36 103.92,589.36 104.53,589.36 105.15,589.36 105.76,589.35 106.37,589.35 106.98,589.35 107.59,589.35 108.20,589.35 108.81,589.35 109.42,589.35 110.03,589.35 110.65,589.35 111.26,589.35 111.87,589.35 112.48,589.35 113.09,589.35 113.70,589.35 114.31,589.35 114.92,589.35 115.53,589.35 116.15,589.35 116.76,589.35 117.37,589.35 117.98,589.34 118.59,589.34 119.20,589.34 119.81,589.34 120.42,589.34 121.03,589.34 121.65,589.34 122.26,589.34 122.87,589.34 123.48,589.34 124.09,589.34 124.70,589.33 125.31,589.33 125.92,589.33 126.53,589.33 127.15,589.33 127.76,589.33 128.37,589.33 128.98,589.33 129.59,589.32 130.20,589.32 130.81,589.32 131.42,589.32 132.04,589.32 132.65,589.32 133.26,589.32 133.87,589.31 134.48,589.31 135.09,589.31 135.70,589.31 136.31,589.31 136.92,589.31 137.54,589.31 138.15,589.30 138.76,589.30 139.37,589.30 139.98,589.30 140.59,589.30 141.20,589.30 141.81,589.29 142.42,589.29 143.04,589.29 143.65,589.29 144.26,589.29 144.87,589.28 145.48,589.28 146.09,589.28 146.70,589.28 147.31,589.28 147.92,589.27 148.54,589.27 149.15,589.27 149.76,589.27 150.37,589.27 150.98,589.26 151.59,589.26 152.20,589.26 152.81,589.26 153.42,589.26 154.04,589.25 154.65,589.25 155.26,589.25 155.87,589.25 156.48,589.25 157.09,589.24 157.70,589.24 158.31,589.24 158.92,589.24 159.54,589.24 160.15,589.23 160.76,589.23 161.37,589.23 161.98,589.23 162.59,589.22 163.20,589.22 163.81,589.22 164.42,589.22 165.04,589.21 165.65,589.21 166.26,589.21 166.87,589.21 167.48,589.21 168.09,589.20 168.70,589.20 169.31,589.20 169.93,589.20 170.54,589.19 171.15,589.19 171.76,589.19 172.37,589.19 172.98,589.18 173.59,589.18 174.20,589.18 174.81,589.18 175.43,589.17 176.04,589.17 176.65,589.17 177.26,589.17 177.87,589.16 178.48,589.16 179.09,589.16 179.70,589.16 180.31,589.16 180.93,589.15 181.54,589.15 182.15,589.15 182.76,589.15 183.37,589.14 183.98,589.14 184.59,589.14 185.20,589.14 185.81,589.13 186.43,589.13 187.04,589.13 187.65,589.13 188.26,589.12 188.87,589.12 189.48,589.12 190.09,589.12 190.70,589.11 191.31,589.11 191.93,589.11 192.54,589.11 193.15,589.10 193.76,589.10 194.37,589.10 194.98,589.10 195.59,589.09 196.20,589.09 196.81,589.09 197.43,589.09 198.04,589.08 198.65,589.08 199.26,589.08 199.87,589.08 200.48,589.07 201.09,589.07 201.70,589.07 202.31,589.07 202.93,589.06 203.54,589.06 204.15,589.06 204.76,589.06 205.37,589.05 205.98,589.05 206.59,589.05 207.20,589.05 207.81,589.05 208.43,589.04 209.04,589.04 209.65,589.04 210.26,589.04 210.87,589.03 211.48,589.03 212.09,589.03 212.70,589.03 213.32,589.02 213.93,589.02 214.54,589.02 215.15,589.02 215.76,589.02 216.37,589.01 216.98,589.01 217.59,589.01 218.20,589.01 218.82,589.00 219.43,589.00 220.04,589.00 220.65,589.00 221.26,589.00 221.87,588.99 222.48,588.99 223.09,588.99 223.70,588.99 224.32,588.99 224.93,588.98 225.54,588.98 226.15,588.98 226.76,588.98 227.37,588.98 227.98,588.97 228.59,588.97 229.20,588.97 229.82,588.97 230.43,588.97 231.04,588.97 231.65,588.96 232.26,588.96 232.87,588.96 233.48,588.96 234.09,588.96 234.70,588.95 235.32,588.95 235.93,588.95 236.54,588.95 237.15,588.95 237.76,588.95 238.37,588.94 238.98,588.94 239.59,588.94 240.20,588.94 240.82,588.94 241.43,588.94 242.04,588.94 242.65,588.93 243.26,588.93 243.87,588.93 244.48,588.93 245.09,588.93 245.70,588.93 246.32,588.93 246.93,588.93 247.54,588.92 248.15,588.92 248.76,588.92 249.37,588.92 249.98,588.92 250.59,588.92 251.20,588.92 251.82,588.92 252.43,588.91 253.04,588.91 253.65,588.91 254.26,588.91 254.87,588.91 255.48,588.91 256.09,588.91 256.71,588.91 257.32,588.91 257.93,588.91 258.54,588.91 259.15,588.91 259.76,588.90 260.37,588.90 260.98,588.90 261.59,588.90 262.21,588.90 262.82,588.90 263.43,588.90 264.04,588.90 264.65,588.90 265.26,588.90 265.87,588.90 266.48,588.90 267.09,588.90 267.71,588.90 268.32,588.90 268.93,588.90 269.54,588.90 270.15,588.90 270.76,588.90 271.37,588.90 271.98,588.90 272.59,588.90 273.21,588.90 273.82,588.90 274.43,588.90 275.04,588.90 275.65,588.90 276.26,588.90 276.87,588.90 277.48,588.90 278.09,588.90 278.71,588.90 279.32,588.90 279.93,588.90 280.54,588.90 281.15,588.90 281.76,588.90 282.37,588.90 282.98,588.90 283.59,588.90 284.21,588.90 284.82,588.90 285.43,588.90 286.04,588.90 286.65,588.90 287.26,588.90 287.87,588.90 288.48,588.89 289.09,588.89 289.71,588.89 290.32,588.88 290.93,588.88 291.54,588.87 292.15,588.87 292.76,588.86 293.37,588.85 293.98,588.84 294.60,588.83 295.21,588.82 295.82,588.81 296.43,588.80 297.04,588.78 297.65,588.77 298.26,588.75 298.87,588.73 299.48,588.72 300.10,588.70 300.71,588.68 301.32,588.65 301.93,588.63 302.54,588.60 303.15,588.58 303.76,588.55 304.37,588.52 304.98,588.49 305.60,588.46 306.21,588.42 306.82,588.39 307.43,588.35 308.04,588.31 308.65,588.27 309.26,588.22 309.87,588.18 310.48,588.13 311.10,588.08 311.71,588.03 312.32,587.98 312.93,587.92 313.54,587.86 314.15,587.80 314.76,587.74 315.37,587.67 315.98,587.60 316.60,587.53 317.21,587.45 317.82,587.37 318.43,587.29 319.04,587.21 319.65,587.11 320.26,587.02 320.87,586.92 321.48,586.82 322.10,586.71 322.71,586.60 323.32,586.48 323.93,586.36 324.54,586.23 325.15,586.10 325.76,585.96 326.37,585.82 326.98,585.67 327.60,585.51 328.21,585.35 328.82,585.19 329.43,585.01 330.04,584.83 330.65,584.65 331.26,584.45 331.87,584.25 332.48,584.05 333.10,583.83 333.71,583.61 334.32,583.39 334.93,583.16 335.54,582.92 336.15,582.68 336.76,582.44 337.37,582.19 337.99,581.94 338.60,581.68 339.21,581.43 339.82,581.17 340.43,580.90 341.04,580.64 341.65,580.37 342.26,580.10 342.87,579.84 343.49,579.57 344.10,579.30 344.71,579.03 345.32,578.76 345.93,578.49 346.54,578.22 347.15,577.96 347.76,577.70 348.37,577.43 348.99,577.18 349.60,576.92 350.21,576.67 350.82,576.42 351.43,576.17 352.04,575.93 352.65,575.69 353.26,575.46 353.87,575.23 354.49,575.01 355.10,574.80 355.71,574.59 356.32,574.38 356.93,574.19 357.54,574.00 358.15,573.82 358.76,573.65 359.37,573.48 359.99,573.33 360.60,573.18 361.21,573.04 361.82,572.91 362.43,572.79 363.04,572.67 363.65,572.57 364.26,572.47 364.87,572.38 365.49,572.30 366.10,572.22 366.71,572.16 367.32,572.10 367.93,572.04 368.54,571.99 369.15,571.95 369.76,571.92 370.37,571.89 370.99,571.86 371.60,571.85 372.21,571.83 372.82,571.83 373.43,571.82 374.04,571.83 374.65,571.83 375.26,571.85 375.87,571.86 376.49,571.88 377.10,571.91 377.71,571.94 378.32,571.97 378.93,572.00 379.54,572.04 380.15,572.08 380.76,572.13 381.38,572.17 381.99,572.22 382.60,572.27 383.21,572.33 383.82,572.38 384.43,572.44 385.04,572.50 385.65,572.56 386.26,572.62 386.88,572.69 387.49,572.75 388.10,572.82 388.71,572.88 389.32,572.95 389.93,573.02 390.54,573.08 391.15,573.15 391.76,573.22 392.38,573.29 392.99,573.36 393.60,573.43 394.21,573.50 394.82,573.57 395.43,573.64 396.04,573.71 396.65,573.78 397.26,573.85 397.88,573.92 398.49,573.99 399.10,574.05 399.71,574.12 400.32,574.19 400.93,574.25 401.54,574.31 402.15,574.38 402.76,574.44 403.38,574.50 403.99,574.56 404.60,574.61 405.21,574.67 405.82,574.72 406.43,574.78 407.04,574.83 407.65,574.88 408.26,574.92 408.88,574.97 409.49,575.01 410.10,575.05 410.71,575.09 411.32,575.12 411.93,575.15 412.54,575.18 413.15,575.21 413.76,575.23 414.38,575.25 414.99,575.27 415.60,575.29 416.21,575.30 416.82,575.30 417.43,575.31 418.04,575.31 418.65,575.31 419.27,575.30 419.88,575.29 420.49,575.28 421.10,575.26 421.71,575.24 422.32,575.21 422.93,575.18 423.54,575.15 424.15,575.11 424.77,575.06 425.38,575.01 425.99,574.96 426.60,574.90 427.21,574.84 427.82,574.78 428.43,574.71 429.04,574.64 429.65,574.56 430.27,574.49 430.88,574.41 431.49,574.33 432.10,574.24 432.71,574.16 433.32,574.07 433.93,573.99 434.54,573.90 435.15,573.81 435.77,573.72 436.38,573.64 436.99,573.55 437.60,573.46 438.21,573.38 438.82,573.29 439.43,573.21 440.04,573.13 440.65,573.05 441.27,572.98 441.88,572.90 442.49,572.83 443.10,572.76 443.71,572.70 444.32,572.64 444.93,572.58 445.54,572.53 446.15,572.49 446.77,572.44 447.38,572.41 447.99,572.37 448.60,572.34 449.21,572.32 449.82,572.30 450.43,572.28 451.04,572.27 451.65,572.26 452.27,572.25 452.88,572.25 453.49,572.25 454.10,572.26 454.71,572.27 455.32,572.28 455.93,572.29 456.54,572.31 457.15,572.33 457.77,572.35 458.38,572.37 458.99,572.40 459.60,572.43 460.21,572.46 460.82,572.49 461.43,572.53 462.04,572.56 462.66,572.60 463.27,572.64 463.88,572.68 464.49,572.72 465.10,572.77 465.71,572.81 466.32,572.86 466.93,572.90 467.54,572.95 468.16,573.00 468.77,573.04 469.38,573.09 469.99,573.14 470.60,573.19 471.21,573.24 471.82,573.28 472.43,573.33 473.04,573.38 473.66,573.42 474.27,573.47 474.88,573.52 475.49,573.56 476.10,573.60 476.71,573.65 477.32,573.69 477.93,573.73 478.54,573.76 479.16,573.80 479.77,573.83 480.38,573.87 480.99,573.90 481.60,573.93 482.21,573.95 482.82,573.98 483.43,574.00 484.04,574.02 484.66,574.03 485.27,574.05 485.88,574.06 486.49,574.07 487.10,574.08 487.71,574.08 488.32,574.08 488.93,574.08 489.54,574.08 490.16,574.08 490.77,574.07 491.38,574.06 491.99,574.06 492.60,574.05 493.21,574.03 493.82,574.02 494.43,574.01 495.04,573.99 495.66,573.98 496.27,573.96 496.88,573.94 497.49,573.92 498.10,573.90 498.71,573.88 499.32,573.86 499.93,573.84 500.54,573.82 501.16,573.80 501.77,573.78 502.38,573.75 502.99,573.73 503.60,573.71 504.21,573.69 504.82,573.67 505.43,573.65 506.05,573.63 506.66,573.61 507.27,573.59 507.88,573.57 508.49,573.55 509.10,573.54 509.71,573.52 510.32,573.51 510.93,573.50 511.55,573.49 512.16,573.48 512.77,573.47 513.38,573.46 513.99,573.45 514.60,573.45 515.21,573.44 515.82,573.44 516.43,573.44 517.05,573.43 517.66,573.43 518.27,573.44 518.88,573.44 519.49,573.44 520.10,573.44 520.71,573.45 521.32,573.45 521.93,573.46 522.55,573.47 523.16,573.48 523.77,573.49 524.38,573.50 524.99,573.51 525.60,573.52 526.21,573.54 526.82,573.55 527.43,573.57 528.05,573.58 528.66,573.60 529.27,573.62 529.88,573.63 530.49,573.65 531.10,573.67 531.71,573.70 532.32,573.72 532.93,573.74 533.55,573.76 534.16,573.79 534.77,573.81 535.38,573.84 535.99,573.86 536.60,573.89 537.21,573.92 537.82,573.94 538.43,573.97 539.05,574.00 539.66,574.03 540.27,574.06 540.88,574.09 541.49,574.13 542.10,574.16 542.71,574.19 543.32,574.22 543.94,574.26 544.55,574.29 545.16,574.33 545.77,574.36 546.38,574.40 546.99,574.44 547.60,574.47 548.21,574.51 548.82,574.55 549.44,574.59 550.05,574.63 550.66,574.67 551.27,574.70 551.88,574.74 552.49,574.78 553.10,574.83 553.71,574.87 554.32,574.91 554.94,574.95 555.55,574.99 556.16,575.03 556.77,575.08 557.38,575.12 557.99,575.16 558.60,575.21 559.21,575.25 559.82,575.29 560.44,575.34 561.05,575.38 561.66,575.43 562.27,575.47 562.88,575.52 563.49,575.56 564.10,575.60 564.71,575.65 565.32,575.70 565.94,575.74 566.55,575.79 567.16,575.83 567.77,575.88 568.38,575.92 568.99,575.97 569.60,576.01 570.21,576.06 570.82,576.11 571.44,576.15 572.05,576.20 572.66,576.24 573.27,576.29 573.88,576.33 574.49,576.38 575.10,576.43 575.71,576.47 576.32,576.52 576.94,576.56 577.55,576.61 578.16,576.65 578.77,576.70 579.38,576.74 579.99,576.79 580.60,576.83 581.21,576.87 581.82,576.92 582.44,576.96 583.05,577.00 583.66,577.05 584.27,577.09 584.88,577.13 585.49,577.18 586.10,577.22 586.71,577.26 587.33,577.30 587.94,577.34 588.55,577.38 589.16,577.42 589.77,577.46 590.38,577.50 590.99,577.54 591.60,577.58 592.21,577.62 592.83,577.66 593.44,577.69 594.05,577.73 594.66,577.77 595.27,577.81 595.88,577.84 596.49,577.88 597.10,577.91 597.71,577.95 598.33,577.98 598.94,578.02 599.55,578.05 600.16,578.09 600.77,578.12 601.38,578.15 601.99,578.19 602.60,578.22 603.21,578.25 603.83,578.28 604.44,578.32 605.05,578.35 605.66,578.38 606.27,578.41 606.88,578.44 607.49,578.47 608.10,578.50 608.71,578.53 609.33,578.56 609.94,578.59 610.55,578.62 611.16,578.65 611.77,578.67 612.38,578.70 612.99,578.73 613.60,578.76 614.21,578.78 614.83,578.81 615.44,578.84 616.05,578.86 616.66,578.89 617.27,578.92 617.88,578.94 618.49,578.97 619.10,578.99 619.71,579.02 620.33,579.04 620.94,579.07 621.55,579.09 622.16,579.11 622.77,579.14 623.38,579.16 623.99,579.18 624.60,579.21 625.21,579.23 625.83,579.25 626.44,579.27 627.05,579.29 627.66,579.32 628.27,579.34 628.88,579.36 629.49,579.38 630.10,579.40 630.72,579.42 631.33,579.44 631.94,579.46 632.55,579.48 633.16,579.50 633.77,579.52 634.38,579.54 634.99,579.56 635.60,579.58 636.22,579.60 636.83,579.61 637.44,579.63 638.05,579.65 638.66,579.67 639.27,579.69 639.88,579.70 640.49,579.72 641.10,579.74 641.72,579.76 642.33,579.77 642.94,579.79 643.55,579.81 644.16,579.82 644.77,579.84 645.38,579.85 645.99,579.87 646.60,579.89 647.22,579.90 647.83,579.92 648.44,579.93 649.05,579.95 649.66,579.96 650.27,579.98 650.88,579.99 651.49,580.01 652.10,580.02 652.72,580.04 653.33,580.05 653.94,580.06 654.55,580.08 655.16,580.09 655.77,580.11 656.38,580.12 656.99,580.13 657.60,580.15 658.22,580.16 658.83,580.17 659.44,580.19 660.05,580.20 660.66,580.21 661.27,580.22 661.88,580.24 662.49,580.25 663.10,580.26 663.72,580.27 664.33,580.29 664.94,580.30 665.55,580.31 666.16,580.32 666.77,580.33 667.38,580.35 667.99,580.36 668.61,580.37 669.22,580.38 669.83,580.39 670.44,580.40 671.05,580.41 671.66,580.42 672.27,580.43 672.88,580.45 673.49,580.46 674.11,580.47 674.72,580.48 675.33,580.49 675.94,580.50 676.55,580.51 677.16,580.52 677.77,580.53 678.38,580.54 678.99,580.55 679.61,580.56 680.22,580.57 680.83,580.58 681.44,580.58 682.05,580.59 682.66,580.60 683.27,580.61 683.88,580.62 684.49,580.63 685.11,580.64 685.72,580.65 686.33,580.66 686.94,580.66 687.55,580.67 688.16,580.68 688.77,580.69 689.38,580.70 689.99,580.71 690.61,580.71 691.22,580.72 691.83,580.73 692.44,580.74 693.05,580.75 693.66,580.75 694.27,580.76 694.88,580.77 695.49,580.78 696.11,580.78 696.72,580.79 697.33,580.80 697.94,580.80 698.55,580.81 699.16,580.82 699.77,580.82 700.38,580.83 700.99,580.84 701.61,580.85 702.22,580.85 702.83,580.86 703.44,580.86 704.05,580.87 704.66,580.88 705.27,580.88 705.88,580.89 706.49,580.90 707.11,580.90 707.72,580.91 708.33,580.91 708.94,580.92 709.55,580.93 710.16,580.93 710.77,580.94 711.38,580.94 712.00,580.95 712.61,580.95 713.22,580.96 713.83,580.96 714.44,580.97 715.05,580.97 715.66,580.98 716.27,580.98 716.88,580.99 717.50,580.99 718.11,581.00 718.72,581.00 719.33,581.01 719.94,581.01 720.55,581.02 721.16,581.02 721.77,581.03 722.38,581.03 723.00,581.04 723.61,581.04 724.22,581.05 724.83,581.05 725.44,581.05 726.05,581.06 726.66,581.06 727.27,581.07 727.88,581.07 728.50,581.08 729.11,581.08 729.72,581.08 730.33,581.09 730.94,581.09 731.55,581.10 732.16,581.10 732.77,581.10 733.38,581.11 734.00,581.11 734.61,581.11 735.22,581.12 735.83,581.12 736.44,581.13 737.05,581.13 737.66,581.13 738.27,581.14 738.88,581.14 739.50,581.14 740.11,581.15 740.72,581.15 741.33,581.15 741.94,581.16 742.55,581.16 743.16,581.16 743.77,581.17 744.38,581.17 745.00,581.17 745.61,581.17 746.22,581.18 746.83,581.18 747.44,581.18 748.05,581.19 748.66,581.19 749.27,581.19 749.88,581.20 750.50,581.20 751.11,581.20 751.72,581.20 752.33,581.21 752.94,581.21 753.55,581.21 754.16,581.22 754.77,581.22 755.39,581.22 756.00,581.22 756.61,581.23 757.22,581.23 757.83,581.23 758.44,581.23 759.05,581.24 759.66,581.24 760.27,581.24 760.89,581.24 761.50,581.25 762.11,581.25 762.72,581.25 763.33,581.26 763.94,581.26 764.55,581.26 765.16,581.26 765.77,581.27 766.39,581.27 767.00,581.27 767.61,581.27 768.22,581.28 768.83,581.28 769.44,581.28 770.05,581.28 770.66,581.29 771.27,581.29 771.89,581.29 772.50,581.29 773.11,581.30 773.72,581.30 774.33,581.30 774.94,581.30 775.55,581.31 776.16,581.31 776.77,581.31 777.39,581.31 778.00,581.32 778.61,581.32 779.22,581.32 779.83,581.32 780.44,581.33 781.05,581.33 781.66,581.33 782.27,581.33 782.89,581.34 783.50,581.34 784.11,581.34 784.72,581.34 785.33,581.35 785.94,581.35 786.55,581.35 787.16,581.35 787.77,581.36 788.39,581.36 789.00,581.36 789.61,581.37 790.22,581.37 790.83,581.37 791.44,581.37 792.05,581.38 792.66,581.38 793.28,581.38 793.89,581.38 794.50,581.39 795.11,581.39 795.72,581.39 796.33,581.40 796.94,581.40 797.55,581.40 798.16,581.41 798.78,581.41 799.39,581.41 800.00,581.41 800.61,581.42 801.22,581.42 801.83,581.42 802.44,581.43 803.05,581.43 803.66,581.43 804.28,581.44 804.89,581.44 805.50,581.44 806.11,581.44 806.72,581.45 807.33,581.45 807.94,581.45 808.55,581.46 809.16,581.46 809.78,581.46 810.39,581.47 811.00,581.47 811.61,581.47 812.22,581.48 812.83,581.48 813.44,581.48 814.05,581.49 814.66,581.49 815.28,581.49 815.89,581.50 816.50,581.50 817.11,581.50 817.72,581.51 818.33,581.51 818.94,581.51 819.55,581.52 820.16,581.52 820.78,581.52 821.39,581.53 822.00,581.53 822.61,581.53 823.22,581.54 823.83,581.54 824.44,581.54 825.05,581.55 825.66,581.55 826.28,581.55 826.89,581.56 827.50,581.56 828.11,581.56 828.72,581.57 829.33,581.57 829.94,581.57 830.55,581.58 831.16,581.58 831.78,581.58 832.39,581.59 833.00,581.59 833.61,581.59 834.22,581.60 834.83,581.60 835.44,581.60 836.05,581.61 836.67,581.61 837.28,581.62 837.89,581.62 838.50,581.62 839.11,581.63 839.72,581.63 840.33,581.63 840.94,581.64 841.55,581.64 842.17,581.64 842.78,581.65 843.39,581.65 844.00,581.65 844.61,581.66 845.22,581.66 845.83,581.66 846.44,581.67 847.05,581.67 847.67,581.67 848.28,581.68 848.89,581.68 849.50,581.68 850.11,581.69 850.72,581.69 851.33,581.69 851.94,581.70 852.55,581.70 853.17,581.70 853.78,581.71 854.39,581.71 855.00,581.71 855.61,581.72 856.22,581.72 856.83,581.72 857.44,581.73 858.05,581.73 858.67,581.73 859.28,581.74 859.89,581.74 860.50,581.74 861.11,581.75 861.72,581.75 862.33,581.75 862.94,581.76 863.55,581.76 864.17,581.76 864.78,581.77 865.39,581.77 866.00,581.77 866.61,581.78 867.22,581.78 867.83,581.78 868.44,581.79 869.05,581.79 869.67,581.79 870.28,581.80 870.89,581.80 871.50,581.80 872.11,581.81 872.72,581.81 873.33,581.81 873.94,581.82 874.55,581.82 875.17,581.82 875.78,581.82 876.39,581.83 877.00,581.83 877.61,581.83 878.22,581.84 878.83,581.84 879.44,581.84 880.06,581.85 880.67,581.85 881.28,581.85 881.89,581.85 882.50,581.86 883.11,581.86 883.72,581.86 884.33,581.87 884.94,581.87 885.56,581.87 886.17,581.87 886.78,581.88 887.39,581.88 888.00,581.88 888.61,581.89 889.22,581.89 889.83,581.89 890.44,581.89 891.06,581.90 891.67,581.90 892.28,581.90 892.89,581.90 893.50,581.91 894.11,581.91 894.72,581.91 895.33,581.92 895.94,581.92 896.56,581.92 897.17,581.92 897.78,581.93 898.39,581.93 899.00,581.93 899.61,581.93 900.22,581.94 900.83,581.94 901.44,581.94 902.06,581.94 902.67,581.94 903.28,581.95 903.89,581.95 904.50,581.95 905.11,581.95 905.72,581.96 906.33,581.96 906.94,581.96 907.56,581.96 908.17,581.96 908.78,581.97 909.39,581.97 910.00,581.97 910.61,581.97 911.22,581.97 911.83,581.98 912.44,581.98 913.06,581.98 913.67,581.98 914.28,581.98 914.89,581.99 915.50,581.99 916.11,581.99 916.72,581.99 917.33,581.99 917.95,581.99 918.56,582.00 919.17,582.00 919.78,582.00 920.39,582.00 921.00,582.00 921.61,582.00 922.22,582.01 922.83,582.01 923.45,582.01 924.06,582.01 924.67,582.01 925.28,582.01 925.89,582.01 926.50,582.02 927.11,582.02 927.72,582.02 928.33,582.02 928.95,582.02 929.56,582.02 930.17,582.02 930.78,582.02 931.39,582.03 932.00,582.03 932.61,582.03 933.22,582.03 933.83,582.03 934.45,582.03 935.06,582.03 935.67,582.03 936.28,582.03 936.89,582.03 937.50,582.03 938.11,582.03 938.72,582.04 939.33,582.04 939.95,582.04 940.56,582.04 941.17,582.04 941.78,582.04 942.39,582.04 943.00,582.04 943.61,582.04 944.22,582.04 944.83,582.04 945.45,582.04 946.06,582.04 946.67,582.04 947.28,582.04 947.89,582.04 948.50,582.04 949.11,582.04 949.72,582.04 950.33,582.04 950.95,582.04 951.56,582.04 952.17,582.04 952.78,582.04 953.39,582.04 954.00,582.04 954.61,582.04 955.22,582.04 955.83,582.04 956.45,582.04 957.06,582.04 957.67,582.04 958.28,582.04 958.89,582.04 959.50,582.04 960.11,582.04 960.72,582.03 961.34,582.03 961.95,582.03 962.56,582.03 963.17,582.03 963.78,582.03 964.39,582.03 965.00,582.03 965.61,582.03 966.22,582.03 966.84,582.03 967.45,582.02 968.06,582.02 968.67,582.02 969.28,582.02 969.89,582.02 970.50,582.02 971.11,582.02 971.72,582.01 972.34,582.01 972.95,582.01 973.56,582.01 974.17,582.01 974.78,582.01 975.39,582.00 976.00,582.00 976.61,582.00 977.22,582.00 977.84,582.00 978.45,581.99 979.06,581.99 979.67,581.99 980.28,581.99" fill="none" stroke="#ff00ff" stroke-width="3.5" stroke-linejoin="round"/>
<rect x="57.50" y="582.60" width="13.4" height="13.4" fill="#ff00ff"/>
<rect x="95.67" y="582.60" width="13.4" height="13.4" fill="#ff00ff"/>
<rect x="133.84" y="582.60" width="13.4" height="13.4" fill="#ff00ff"/>
<rect x="172.01" y="582.60" width="13.4" height="13.4" fill="#ff00ff"/>
<rect x="210.18" y="582.10" width="13.4" height="13.4" fill="#ff00ff"/>
<rect x="248.35" y="582.40" width="13.4" height="13.4" fill="#ff00ff"/>
<rect x="286.52" y="582.00" width="13.4" height="13.4" fill="#ff00ff"/>
<rect x="324.69" y="577.90" width="13.4" height="13.4" fill="#ff00ff"/>
<rect x="362.86" y="564.90" width="13.4" height="13.4" fill="#ff00ff"/>
<rect x="401.03" y="568.60" width="13.4" height="13.4" fill="#ff00ff"/>
<rect x="439.20" y="565.80" width="13.4" height="13.4" fill="#ff00ff"/>
<rect x="477.37" y="567.30" width="13.4" height="13.4" fill="#ff00ff"/>
<rect x="515.54" y="566.80" width="13.4" height="13.4" fill="#ff00ff"/>
<rect x="553.71" y="568.40" width="13.4" height="13.4" fill="#ff00ff"/>
<rect x="591.88" y="571.60" width="13.4" height="13.4" fill="#ff00ff"/>
<rect x="630.05" y="572.70" width="13.4" height="13.4" fill="#ff00ff"/>
<rect x="668.22" y="573.80" width="13.4" height="13.4" fill="#ff00ff"/>
<rect x="706.39" y="574.30" width="13.4" height="13.4" fill="#ff00ff"/>
<rect x="744.56" y="574.60" width="13.4" height="13.4" fill="#ff00ff"/>
<rect x="782.73" y="574.60" width="13.4" height="13.4" fill="#ff00ff"/>
<rect x="820.90" y="574.80" width="13.4" height="13.4" fill="#ff00ff"/>
<rect x="859.07" y="575.10" width="13.4" height="13.4" fill="#ff00ff"/>
<rect x="897.24" y="575.30" width="13.4" height="13.4" fill="#ff00ff"/>
<rect x="935.41" y="575.30" width="13.4" height="13.4" fill="#ff00ff"/>
<rect x="973.58" y="575.30" width="13.4" height="13.4" fill="#ff00ff"/>
</g>
<path d="M68.0,3.9 H986.5 V673.3 H68.0 Z" fill="none" stroke="#000" stroke-width="2.9"/>
<line x1="67.0" y1="3.90" x2="55" y2="3.90" stroke="#000" stroke-width="2.8" stroke-linecap="round"/>
<line x1="67.0" y1="45.74" x2="61.3" y2="45.74" stroke="#000" stroke-width="2.8" stroke-linecap="round"/>
<line x1="67.0" y1="87.58" x2="55" y2="87.58" stroke="#000" stroke-width="2.8" stroke-linecap="round"/>
<line x1="67.0" y1="129.41" x2="61.3" y2="129.41" stroke="#000" stroke-width="2.8" stroke-linecap="round"/>
<line x1="67.0" y1="171.25" x2="55" y2="171.25" stroke="#000" stroke-width="2.8" stroke-linecap="round"/>
<line x1="67.0" y1="213.09" x2="61.3" y2="213.09" stroke="#000" stroke-width="2.8" stroke-linecap="round"/>
<line x1="67.0" y1="254.92" x2="55" y2="254.92" stroke="#000" stroke-width="2.8" stroke-linecap="round"/>
<line x1="67.0" y1="296.76" x2="61.3" y2="296.76" stroke="#000" stroke-width="2.8" stroke-linecap="round"/>
<line x1="67.0" y1="338.60" x2="55" y2="338.60" stroke="#000" stroke-width="2.8" stroke-linecap="round"/>
<line x1="67.0" y1="380.44" x2="61.3" y2="380.44" stroke="#000" stroke-width="2.8" stroke-linecap="round"/>
<line x1="67.0" y1="422.27" x2="55" y2="422.27" stroke="#000" stroke-width="2.8" stroke-linecap="round"/>
<line x1="67.0" y1="464.11" x2="61.3" y2="464.11" stroke="#000" stroke-width="2.8" stroke-linecap="round"/>
<line x1="67.0" y1="505.95" x2="55" y2="505.95" stroke="#000" stroke-width="2.8" stroke-linecap="round"/>
<line x1="67.0" y1="547.79" x2="61.3" y2="547.79" stroke="#000" stroke-width="2.8" stroke-linecap="round"/>
<line x1="67.0" y1="589.62" x2="55" y2="589.62" stroke="#000" stroke-width="2.8" stroke-linecap="round"/>
<line x1="67.0" y1="631.46" x2="61.3" y2="631.46" stroke="#000" stroke-width="2.8" stroke-linecap="round"/>
<line x1="67.0" y1="673.30" x2="55" y2="673.30" stroke="#000" stroke-width="2.8" stroke-linecap="round"/>
<line x1="67.90" y1="674.3" x2="67.90" y2="687" stroke="#000" stroke-width="2.8" stroke-linecap="round"/>
<line x1="182.55" y1="674.3" x2="182.55" y2="680.5" stroke="#000" stroke-width="2.8" stroke-linecap="round"/>
<line x1="297.20" y1="674.3" x2="297.20" y2="687" stroke="#000" stroke-width="2.8" stroke-linecap="round"/>
<line x1="411.85" y1="674.3" x2="411.85" y2="680.5" stroke="#000" stroke-width="2.8" stroke-linecap="round"/>
<line x1="526.50" y1="674.3" x2="526.50" y2="687" stroke="#000" stroke-width="2.8" stroke-linecap="round"/>
<line x1="641.15" y1="674.3" x2="641.15" y2="680.5" stroke="#000" stroke-width="2.8" stroke-linecap="round"/>
<line x1="755.80" y1="674.3" x2="755.80" y2="687" stroke="#000" stroke-width="2.8" stroke-linecap="round"/>
<line x1="870.45" y1="674.3" x2="870.45" y2="680.5" stroke="#000" stroke-width="2.8" stroke-linecap="round"/>
<line x1="985.10" y1="674.3" x2="985.10" y2="687" stroke="#000" stroke-width="2.8" stroke-linecap="round"/>
<text x="67.90" y="720" text-anchor="middle" class="tl">9</text>
<text x="297.20" y="720" text-anchor="middle" class="tl">10</text>
<text x="526.50" y="720" text-anchor="middle" class="tl">11</text>
<text x="755.80" y="720" text-anchor="middle" class="tl">12</text>
<text x="984.30" y="720" text-anchor="middle" class="tl">13</text>
<text x="448" y="775" class="at">Time (min)</text>
<text transform="translate(24.8,471) rotate(-90)" x="0" y="0" class="yt">Refractive index (mV)</text>
<rect x="756.3" y="19.9" width="203.8" height="222.9" fill="#fff" stroke="#444" stroke-width="1.7"/>
<line x1="765.6" y1="44.2" x2="840.6" y2="44.2" stroke="#000000" stroke-width="3.5" stroke-linecap="round"/>
<rect x="796.20" y="37.80" width="12.8" height="12.8" fill="#000000"/>
<text x="848.6" y="55.2" class="lg">PVC</text>
<line x1="765.6" y1="85.9" x2="840.6" y2="85.9" stroke="#ff0000" stroke-width="3.5" stroke-linecap="round"/>
<rect x="796.20" y="79.50" width="12.8" height="12.8" fill="#ff0000"/>
<text x="848.6" y="96.9" class="lg">PVC-N</text><text x="939.2" y="109.9" class="lg">3</text>
<line x1="765.6" y1="140.9" x2="840.6" y2="140.9" stroke="#0000ff" stroke-width="3.5" stroke-linecap="round"/>
<rect x="796.20" y="134.50" width="12.8" height="12.8" fill="#0000ff"/>
<text x="848.6" y="151.9" class="lg">PVC-C</text>
<line x1="765.6" y1="182.3" x2="840.6" y2="182.3" stroke="#007300" stroke-width="3.5" stroke-linecap="round"/>
<rect x="796.20" y="175.90" width="12.8" height="12.8" fill="#007300"/>
<text x="848.6" y="193.3" class="lg">PVC-B</text>
<line x1="765.6" y1="222.9" x2="840.6" y2="222.9" stroke="#ff00ff" stroke-width="3.5" stroke-linecap="round"/>
<rect x="796.20" y="216.50" width="12.8" height="12.8" fill="#ff00ff"/>
<text x="848.6" y="233.9" class="lg">PVC-A</text>
</svg>
</body></html>
